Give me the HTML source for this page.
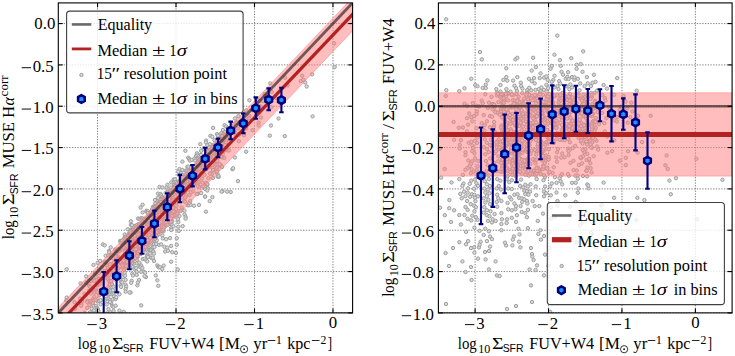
<!DOCTYPE html><html><head><meta charset="utf-8"><style>html,body{margin:0;padding:0;background:#fff;width:735px;height:356px;overflow:hidden}svg{display:block}text{font-kerning:none}</style></head><body>
<svg width="735" height="356" viewBox="0 0 735 356">
<defs><clipPath id="cl"><rect x="58.3" y="2.9" width="294.30" height="310.00"/></clipPath>
<clipPath id="cr"><rect x="438.4" y="2.9" width="293.70" height="310.00"/></clipPath></defs>
<g clip-path="url(#cl)">
<g stroke="#707070" stroke-width="0.9" stroke-dasharray="1.3,1.42"><line x1="97.54" y1="2.9" x2="97.54" y2="312.9"/><line x1="176.02" y1="2.9" x2="176.02" y2="312.9"/><line x1="254.50" y1="2.9" x2="254.50" y2="312.9"/><line x1="332.98" y1="2.9" x2="332.98" y2="312.9"/><line x1="58.3" y1="23.57" x2="352.6" y2="23.57"/><line x1="58.3" y1="64.90" x2="352.6" y2="64.90"/><line x1="58.3" y1="106.23" x2="352.6" y2="106.23"/><line x1="58.3" y1="147.57" x2="352.6" y2="147.57"/><line x1="58.3" y1="188.90" x2="352.6" y2="188.90"/><line x1="58.3" y1="230.23" x2="352.6" y2="230.23"/><line x1="58.3" y1="271.57" x2="352.6" y2="271.57"/><line x1="58.3" y1="312.90" x2="352.6" y2="312.90"/></g>
<g fill="#d8d8d8" stroke="#9e9e9e" stroke-width="1.0"><circle cx="66.6" cy="269.3" r="1.7"/><circle cx="102.8" cy="244.4" r="1.7"/><circle cx="104.7" cy="245.3" r="1.7"/><circle cx="140.6" cy="207.5" r="1.7"/><circle cx="142.6" cy="204.7" r="1.7"/><circle cx="159.5" cy="186.9" r="1.7"/><circle cx="130.9" cy="221.3" r="1.7"/><circle cx="185.4" cy="150.8" r="1.7"/><circle cx="182.4" cy="161.6" r="1.7"/><circle cx="188.2" cy="157.7" r="1.7"/><circle cx="200.3" cy="144.1" r="1.7"/><circle cx="213.1" cy="127.9" r="1.7"/><circle cx="162.5" cy="187.5" r="1.7"/><circle cx="158.0" cy="193.6" r="1.7"/><circle cx="167.5" cy="184.7" r="1.7"/><circle cx="179.5" cy="169.1" r="1.7"/><circle cx="189.1" cy="159.0" r="1.7"/><circle cx="206.1" cy="140.6" r="1.7"/><circle cx="210.4" cy="135.8" r="1.7"/><circle cx="212.3" cy="136.9" r="1.7"/><circle cx="196.9" cy="153.3" r="1.7"/><circle cx="189.9" cy="160.5" r="1.7"/><circle cx="182.4" cy="170.0" r="1.7"/><circle cx="93.5" cy="264.9" r="1.7"/><circle cx="110.7" cy="247.4" r="1.7"/><circle cx="130.9" cy="224.8" r="1.7"/><circle cx="127.7" cy="229.3" r="1.7"/><circle cx="142.6" cy="212.4" r="1.7"/><circle cx="138.1" cy="218.5" r="1.7"/><circle cx="146.4" cy="210.7" r="1.7"/><circle cx="155.0" cy="200.0" r="1.7"/><circle cx="160.5" cy="194.0" r="1.7"/><circle cx="171.3" cy="182.4" r="1.7"/><circle cx="173.7" cy="179.4" r="1.7"/><circle cx="175.0" cy="179.4" r="1.7"/><circle cx="194.4" cy="158.6" r="1.7"/><circle cx="201.1" cy="150.8" r="1.7"/><circle cx="203.7" cy="149.2" r="1.7"/><circle cx="207.4" cy="144.9" r="1.7"/><circle cx="97.7" cy="262.9" r="1.7"/><circle cx="109.0" cy="250.9" r="1.7"/><circle cx="124.7" cy="234.5" r="1.7"/><circle cx="161.2" cy="195.3" r="1.7"/><circle cx="209.9" cy="144.1" r="1.7"/><circle cx="181.2" cy="172.9" r="1.7"/><circle cx="187.4" cy="166.8" r="1.7"/><circle cx="217.0" cy="134.1" r="1.7"/><circle cx="224.5" cy="125.3" r="1.7"/><circle cx="226.2" cy="126.3" r="1.7"/><circle cx="223.0" cy="130.0" r="1.7"/><circle cx="218.0" cy="135.6" r="1.7"/><circle cx="249.4" cy="100.3" r="1.7"/><circle cx="234.9" cy="118.4" r="1.7"/><circle cx="270.3" cy="83.4" r="1.7"/><circle cx="285.2" cy="77.7" r="1.7"/><circle cx="271.7" cy="91.9" r="1.7"/><circle cx="276.0" cy="97.9" r="1.7"/><circle cx="287.7" cy="85.4" r="1.7"/><circle cx="302.2" cy="75.7" r="1.7"/><circle cx="334.1" cy="43.4" r="1.7"/><circle cx="258.6" cy="122.5" r="1.7"/><circle cx="252.4" cy="130.2" r="1.7"/><circle cx="261.0" cy="117.5" r="1.7"/><circle cx="300.9" cy="81.0" r="1.7"/><circle cx="112.4" cy="313.8" r="1.7"/><circle cx="113.5" cy="311.0" r="1.7"/><circle cx="119.4" cy="310.6" r="1.7"/><circle cx="120.9" cy="314.6" r="1.7"/><circle cx="123.7" cy="311.9" r="1.7"/><circle cx="130.6" cy="292.5" r="1.7"/><circle cx="137.4" cy="285.3" r="1.7"/><circle cx="145.9" cy="277.0" r="1.7"/><circle cx="157.3" cy="265.4" r="1.7"/><circle cx="158.3" cy="266.6" r="1.7"/><circle cx="158.8" cy="267.2" r="1.7"/><circle cx="160.1" cy="267.2" r="1.7"/><circle cx="155.8" cy="275.5" r="1.7"/><circle cx="162.2" cy="269.0" r="1.7"/><circle cx="163.7" cy="265.6" r="1.7"/><circle cx="172.2" cy="252.2" r="1.7"/><circle cx="171.2" cy="261.7" r="1.7"/><circle cx="157.3" cy="280.3" r="1.7"/><circle cx="158.3" cy="285.8" r="1.7"/><circle cx="141.2" cy="305.4" r="1.7"/><circle cx="217.5" cy="176.6" r="1.7"/><circle cx="218.7" cy="176.8" r="1.7"/><circle cx="234.9" cy="157.5" r="1.7"/><circle cx="246.1" cy="151.7" r="1.7"/><circle cx="271.0" cy="125.5" r="1.7"/><circle cx="278.5" cy="118.5" r="1.7"/><circle cx="305.2" cy="82.5" r="1.7"/><circle cx="312.2" cy="74.3" r="1.7"/><circle cx="306.7" cy="86.5" r="1.7"/><circle cx="258.6" cy="125.5" r="1.7"/><circle cx="303.4" cy="79.8" r="1.7"/><circle cx="217.5" cy="169.8" r="1.7"/><circle cx="232.4" cy="169.2" r="1.7"/><circle cx="269.8" cy="135.6" r="1.7"/><circle cx="334.6" cy="67.1" r="1.7"/><circle cx="222.5" cy="191.1" r="1.7"/><circle cx="85.1" cy="315.5" r="1.7"/><circle cx="93.5" cy="305.6" r="1.7"/><circle cx="91.8" cy="308.7" r="1.7"/><circle cx="97.3" cy="301.2" r="1.7"/><circle cx="99.0" cy="300.8" r="1.7"/><circle cx="100.6" cy="300.2" r="1.7"/><circle cx="90.0" cy="312.3" r="1.7"/><circle cx="96.2" cy="305.9" r="1.7"/><circle cx="89.5" cy="314.6" r="1.7"/><circle cx="94.0" cy="310.5" r="1.7"/><circle cx="96.8" cy="307.8" r="1.7"/><circle cx="92.3" cy="313.3" r="1.7"/><circle cx="97.3" cy="308.4" r="1.7"/><circle cx="100.6" cy="304.3" r="1.7"/><circle cx="97.8" cy="309.2" r="1.7"/><circle cx="92.8" cy="315.7" r="1.7"/><circle cx="96.2" cy="312.7" r="1.7"/><circle cx="98.4" cy="311.1" r="1.7"/><circle cx="96.8" cy="314.4" r="1.7"/><circle cx="107.9" cy="290.6" r="1.7"/><circle cx="112.3" cy="285.2" r="1.7"/><circle cx="110.1" cy="289.5" r="1.7"/><circle cx="113.5" cy="286.7" r="1.7"/><circle cx="107.4" cy="294.1" r="1.7"/><circle cx="111.2" cy="290.5" r="1.7"/><circle cx="108.4" cy="294.6" r="1.7"/><circle cx="112.9" cy="290.2" r="1.7"/><circle cx="110.1" cy="294.3" r="1.7"/><circle cx="106.7" cy="298.7" r="1.7"/><circle cx="111.7" cy="294.1" r="1.7"/><circle cx="108.4" cy="298.6" r="1.7"/><circle cx="113.5" cy="294.0" r="1.7"/><circle cx="107.4" cy="301.6" r="1.7"/><circle cx="110.1" cy="299.9" r="1.7"/><circle cx="114.0" cy="296.3" r="1.7"/><circle cx="121.1" cy="275.8" r="1.7"/><circle cx="124.6" cy="272.9" r="1.7"/><circle cx="122.9" cy="276.8" r="1.7"/><circle cx="120.6" cy="280.2" r="1.7"/><circle cx="125.1" cy="275.8" r="1.7"/><circle cx="121.1" cy="282.1" r="1.7"/><circle cx="122.3" cy="282.3" r="1.7"/><circle cx="125.6" cy="279.9" r="1.7"/><circle cx="120.6" cy="285.6" r="1.7"/><circle cx="121.1" cy="286.9" r="1.7"/><circle cx="131.2" cy="265.3" r="1.7"/><circle cx="134.0" cy="263.6" r="1.7"/><circle cx="136.8" cy="259.8" r="1.7"/><circle cx="132.9" cy="267.2" r="1.7"/><circle cx="136.8" cy="263.4" r="1.7"/><circle cx="134.5" cy="269.1" r="1.7"/><circle cx="136.2" cy="268.1" r="1.7"/><circle cx="132.3" cy="273.7" r="1.7"/><circle cx="139.5" cy="262.7" r="1.7"/><circle cx="142.8" cy="259.0" r="1.7"/><circle cx="144.6" cy="258.7" r="1.7"/><circle cx="147.3" cy="255.9" r="1.7"/><circle cx="146.7" cy="249.1" r="1.7"/><circle cx="145.6" cy="252.8" r="1.7"/><circle cx="148.9" cy="249.9" r="1.7"/><circle cx="151.2" cy="246.5" r="1.7"/><circle cx="154.0" cy="244.2" r="1.7"/><circle cx="150.1" cy="249.9" r="1.7"/><circle cx="152.9" cy="247.2" r="1.7"/><circle cx="156.2" cy="243.9" r="1.7"/><circle cx="151.2" cy="250.2" r="1.7"/><circle cx="154.5" cy="247.0" r="1.7"/><circle cx="156.7" cy="240.4" r="1.7"/><circle cx="162.3" cy="235.4" r="1.7"/><circle cx="163.4" cy="231.4" r="1.7"/><circle cx="170.6" cy="224.2" r="1.7"/><circle cx="171.2" cy="228.2" r="1.7"/><circle cx="162.8" cy="238.4" r="1.7"/><circle cx="150.1" cy="253.5" r="1.7"/><circle cx="152.9" cy="251.2" r="1.7"/><circle cx="147.9" cy="256.9" r="1.7"/><circle cx="159.0" cy="244.8" r="1.7"/><circle cx="153.4" cy="251.6" r="1.7"/><circle cx="139.5" cy="266.2" r="1.7"/><circle cx="141.2" cy="265.5" r="1.7"/><circle cx="146.2" cy="260.3" r="1.7"/><circle cx="132.9" cy="275.5" r="1.7"/><circle cx="136.8" cy="271.9" r="1.7"/><circle cx="140.6" cy="267.4" r="1.7"/><circle cx="154.0" cy="253.6" r="1.7"/><circle cx="161.2" cy="244.4" r="1.7"/><circle cx="166.1" cy="239.2" r="1.7"/><circle cx="171.2" cy="230.0" r="1.7"/><circle cx="98.4" cy="315.1" r="1.7"/><circle cx="100.1" cy="314.3" r="1.7"/><circle cx="106.7" cy="313.4" r="1.7"/><circle cx="108.4" cy="309.1" r="1.7"/><circle cx="112.3" cy="306.1" r="1.7"/><circle cx="113.5" cy="306.9" r="1.7"/><circle cx="111.2" cy="303.0" r="1.7"/><circle cx="110.1" cy="301.9" r="1.7"/><circle cx="112.9" cy="299.4" r="1.7"/><circle cx="106.7" cy="304.4" r="1.7"/><circle cx="115.6" cy="299.0" r="1.7"/><circle cx="115.6" cy="305.7" r="1.7"/><circle cx="110.1" cy="312.2" r="1.7"/><circle cx="118.4" cy="292.8" r="1.7"/><circle cx="125.6" cy="284.7" r="1.7"/><circle cx="116.2" cy="297.1" r="1.7"/><circle cx="119.5" cy="294.3" r="1.7"/><circle cx="126.2" cy="286.6" r="1.7"/><circle cx="131.7" cy="280.8" r="1.7"/><circle cx="125.6" cy="289.1" r="1.7"/><circle cx="131.2" cy="282.8" r="1.7"/><circle cx="136.8" cy="274.9" r="1.7"/><circle cx="142.3" cy="268.0" r="1.7"/><circle cx="141.2" cy="271.8" r="1.7"/><circle cx="147.3" cy="261.4" r="1.7"/><circle cx="151.2" cy="257.8" r="1.7"/><circle cx="152.9" cy="257.6" r="1.7"/><circle cx="164.5" cy="246.9" r="1.7"/><circle cx="170.1" cy="238.1" r="1.7"/><circle cx="125.6" cy="291.6" r="1.7"/><circle cx="143.9" cy="271.7" r="1.7"/><circle cx="154.0" cy="260.9" r="1.7"/><circle cx="167.3" cy="247.6" r="1.7"/><circle cx="165.1" cy="251.5" r="1.7"/><circle cx="171.2" cy="245.9" r="1.7"/><circle cx="167.9" cy="250.8" r="1.7"/><circle cx="145.1" cy="272.7" r="1.7"/><circle cx="139.0" cy="280.0" r="1.7"/><circle cx="137.8" cy="282.5" r="1.7"/><circle cx="144.6" cy="276.2" r="1.7"/><circle cx="129.5" cy="292.5" r="1.7"/><circle cx="172.2" cy="221.2" r="1.7"/><circle cx="172.2" cy="225.0" r="1.7"/><circle cx="173.4" cy="226.4" r="1.7"/><circle cx="178.4" cy="222.0" r="1.7"/><circle cx="177.8" cy="219.1" r="1.7"/><circle cx="179.5" cy="216.1" r="1.7"/><circle cx="182.8" cy="210.1" r="1.7"/><circle cx="184.5" cy="210.6" r="1.7"/><circle cx="187.8" cy="205.2" r="1.7"/><circle cx="188.9" cy="205.3" r="1.7"/><circle cx="190.6" cy="204.8" r="1.7"/><circle cx="184.5" cy="214.4" r="1.7"/><circle cx="193.9" cy="205.7" r="1.7"/><circle cx="201.2" cy="193.0" r="1.7"/><circle cx="205.1" cy="188.9" r="1.7"/><circle cx="207.3" cy="184.9" r="1.7"/><circle cx="207.8" cy="188.3" r="1.7"/><circle cx="207.3" cy="190.5" r="1.7"/><circle cx="185.6" cy="216.7" r="1.7"/><circle cx="205.1" cy="196.6" r="1.7"/><circle cx="178.4" cy="226.8" r="1.7"/><circle cx="185.6" cy="218.6" r="1.7"/><circle cx="199.0" cy="204.9" r="1.7"/><circle cx="66.7" cy="297.6" r="1.7"/><circle cx="80.6" cy="283.4" r="1.7"/><circle cx="86.2" cy="276.3" r="1.7"/><circle cx="100.1" cy="260.9" r="1.7"/><circle cx="105.6" cy="255.7" r="1.7"/><circle cx="109.0" cy="252.3" r="1.7"/><circle cx="66.2" cy="300.4" r="1.7"/><circle cx="86.2" cy="282.5" r="1.7"/><circle cx="95.1" cy="273.0" r="1.7"/><circle cx="104.6" cy="261.9" r="1.7"/><circle cx="105.6" cy="261.8" r="1.7"/><circle cx="108.4" cy="255.3" r="1.7"/><circle cx="112.3" cy="254.6" r="1.7"/><circle cx="115.1" cy="249.4" r="1.7"/><circle cx="89.0" cy="280.4" r="1.7"/><circle cx="99.0" cy="269.8" r="1.7"/><circle cx="101.8" cy="267.1" r="1.7"/><circle cx="111.2" cy="257.8" r="1.7"/><circle cx="91.2" cy="281.1" r="1.7"/><circle cx="89.0" cy="285.4" r="1.7"/><circle cx="93.5" cy="280.2" r="1.7"/><circle cx="96.2" cy="276.9" r="1.7"/><circle cx="99.6" cy="271.5" r="1.7"/><circle cx="99.0" cy="273.2" r="1.7"/><circle cx="106.7" cy="265.4" r="1.7"/><circle cx="113.5" cy="258.8" r="1.7"/><circle cx="74.5" cy="302.1" r="1.7"/><circle cx="94.5" cy="280.8" r="1.7"/><circle cx="110.1" cy="264.3" r="1.7"/><circle cx="80.1" cy="298.6" r="1.7"/><circle cx="84.5" cy="293.8" r="1.7"/><circle cx="90.0" cy="286.8" r="1.7"/><circle cx="89.0" cy="290.7" r="1.7"/><circle cx="99.0" cy="278.8" r="1.7"/><circle cx="104.6" cy="270.9" r="1.7"/><circle cx="107.9" cy="268.2" r="1.7"/><circle cx="75.1" cy="308.6" r="1.7"/><circle cx="82.3" cy="301.2" r="1.7"/><circle cx="81.2" cy="304.3" r="1.7"/><circle cx="81.2" cy="305.7" r="1.7"/><circle cx="90.7" cy="293.4" r="1.7"/><circle cx="93.5" cy="290.1" r="1.7"/><circle cx="97.3" cy="285.6" r="1.7"/><circle cx="99.6" cy="284.1" r="1.7"/><circle cx="94.5" cy="290.4" r="1.7"/><circle cx="95.6" cy="290.3" r="1.7"/><circle cx="94.5" cy="292.7" r="1.7"/><circle cx="96.8" cy="291.2" r="1.7"/><circle cx="87.3" cy="300.8" r="1.7"/><circle cx="87.3" cy="302.0" r="1.7"/><circle cx="100.1" cy="281.4" r="1.7"/><circle cx="107.9" cy="273.8" r="1.7"/><circle cx="110.1" cy="272.9" r="1.7"/><circle cx="106.7" cy="278.2" r="1.7"/><circle cx="110.1" cy="275.4" r="1.7"/><circle cx="113.5" cy="270.3" r="1.7"/><circle cx="108.4" cy="279.3" r="1.7"/><circle cx="112.3" cy="274.4" r="1.7"/><circle cx="114.5" cy="267.1" r="1.7"/><circle cx="107.4" cy="270.9" r="1.7"/><circle cx="113.5" cy="263.2" r="1.7"/><circle cx="97.5" cy="292.4" r="1.7"/><circle cx="90.3" cy="300.9" r="1.7"/><circle cx="94.3" cy="297.0" r="1.7"/><circle cx="93.0" cy="299.4" r="1.7"/><circle cx="91.6" cy="301.7" r="1.7"/><circle cx="89.4" cy="304.9" r="1.7"/><circle cx="87.2" cy="307.9" r="1.7"/><circle cx="93.9" cy="300.7" r="1.7"/><circle cx="95.7" cy="299.8" r="1.7"/><circle cx="93.0" cy="303.1" r="1.7"/><circle cx="84.5" cy="312.8" r="1.7"/><circle cx="100.2" cy="292.8" r="1.7"/><circle cx="101.1" cy="289.8" r="1.7"/><circle cx="99.3" cy="295.3" r="1.7"/><circle cx="109.2" cy="281.2" r="1.7"/><circle cx="111.0" cy="281.0" r="1.7"/><circle cx="109.6" cy="284.8" r="1.7"/><circle cx="108.3" cy="287.5" r="1.7"/><circle cx="113.7" cy="275.4" r="1.7"/><circle cx="111.8" cy="284.1" r="1.7"/><circle cx="238.4" cy="116.1" r="1.7"/><circle cx="227.8" cy="128.1" r="1.7"/><circle cx="233.4" cy="123.9" r="1.7"/><circle cx="236.2" cy="122.3" r="1.7"/><circle cx="236.8" cy="122.6" r="1.7"/><circle cx="246.2" cy="110.4" r="1.7"/><circle cx="241.2" cy="120.9" r="1.7"/><circle cx="228.5" cy="136.0" r="1.7"/><circle cx="233.4" cy="131.2" r="1.7"/><circle cx="237.9" cy="128.5" r="1.7"/><circle cx="246.2" cy="120.6" r="1.7"/><circle cx="249.5" cy="115.9" r="1.7"/><circle cx="252.3" cy="110.0" r="1.7"/><circle cx="253.5" cy="107.5" r="1.7"/><circle cx="256.1" cy="100.4" r="1.7"/><circle cx="258.4" cy="100.3" r="1.7"/><circle cx="260.1" cy="101.2" r="1.7"/><circle cx="264.5" cy="94.3" r="1.7"/><circle cx="265.7" cy="96.6" r="1.7"/><circle cx="263.4" cy="101.2" r="1.7"/><circle cx="230.1" cy="139.1" r="1.7"/><circle cx="235.6" cy="132.9" r="1.7"/><circle cx="249.0" cy="118.2" r="1.7"/><circle cx="260.6" cy="106.3" r="1.7"/><circle cx="236.2" cy="135.6" r="1.7"/><circle cx="238.9" cy="134.8" r="1.7"/><circle cx="246.2" cy="128.6" r="1.7"/><circle cx="227.3" cy="148.7" r="1.7"/><circle cx="227.8" cy="150.4" r="1.7"/><circle cx="229.0" cy="150.4" r="1.7"/><circle cx="238.9" cy="141.2" r="1.7"/><circle cx="244.0" cy="135.3" r="1.7"/><circle cx="271.2" cy="107.2" r="1.7"/><circle cx="131.9" cy="225.1" r="1.7"/><circle cx="158.0" cy="197.8" r="1.7"/><circle cx="166.6" cy="187.6" r="1.7"/><circle cx="120.2" cy="240.9" r="1.7"/><circle cx="124.7" cy="237.1" r="1.7"/><circle cx="131.0" cy="229.5" r="1.7"/><circle cx="135.5" cy="225.8" r="1.7"/><circle cx="139.5" cy="219.1" r="1.7"/><circle cx="141.3" cy="218.2" r="1.7"/><circle cx="142.3" cy="218.4" r="1.7"/><circle cx="146.8" cy="211.6" r="1.7"/><circle cx="148.1" cy="211.3" r="1.7"/><circle cx="153.1" cy="206.7" r="1.7"/><circle cx="155.4" cy="203.3" r="1.7"/><circle cx="157.6" cy="201.9" r="1.7"/><circle cx="162.1" cy="197.0" r="1.7"/><circle cx="165.7" cy="192.9" r="1.7"/><circle cx="168.4" cy="189.4" r="1.7"/><circle cx="171.1" cy="187.6" r="1.7"/><circle cx="173.7" cy="182.7" r="1.7"/><circle cx="175.6" cy="182.2" r="1.7"/><circle cx="167.4" cy="191.9" r="1.7"/><circle cx="178.1" cy="171.7" r="1.7"/><circle cx="206.0" cy="142.3" r="1.7"/><circle cx="191.6" cy="159.9" r="1.7"/><circle cx="196.1" cy="156.0" r="1.7"/><circle cx="203.8" cy="148.1" r="1.7"/><circle cx="179.4" cy="175.6" r="1.7"/><circle cx="188.5" cy="166.7" r="1.7"/><circle cx="197.5" cy="155.4" r="1.7"/><circle cx="182.2" cy="174.9" r="1.7"/><circle cx="185.7" cy="170.6" r="1.7"/><circle cx="186.7" cy="170.8" r="1.7"/><circle cx="195.2" cy="160.6" r="1.7"/><circle cx="199.3" cy="155.7" r="1.7"/><circle cx="201.1" cy="155.0" r="1.7"/><circle cx="198.3" cy="158.6" r="1.7"/><circle cx="209.1" cy="147.7" r="1.7"/><circle cx="214.6" cy="140.2" r="1.7"/><circle cx="221.3" cy="133.2" r="1.7"/><circle cx="174.1" cy="185.1" r="1.7"/><circle cx="312.6" cy="116.4" r="1.7"/><circle cx="284.8" cy="136.1" r="1.7"/><circle cx="233.1" cy="168.3" r="1.7"/><circle cx="238.0" cy="181.1" r="1.7"/><circle cx="227.1" cy="191.6" r="1.7"/><circle cx="230.7" cy="192.0" r="1.7"/><circle cx="221.6" cy="191.6" r="1.7"/><circle cx="205.1" cy="196.6" r="1.7"/><circle cx="212.4" cy="197.1" r="1.7"/><circle cx="209.7" cy="201.1" r="1.7"/><circle cx="206.0" cy="211.7" r="1.7"/><circle cx="218.5" cy="175.9" r="1.7"/><circle cx="182.7" cy="226.1" r="1.7"/><circle cx="178.7" cy="231.0" r="1.7"/><circle cx="176.8" cy="238.3" r="1.7"/><circle cx="176.8" cy="244.7" r="1.7"/><circle cx="175.9" cy="252.9" r="1.7"/><circle cx="177.7" cy="269.4" r="1.7"/><circle cx="130.7" cy="247.8" r="1.7"/><circle cx="155.0" cy="206.5" r="1.7"/><circle cx="131.7" cy="261.2" r="1.7"/><circle cx="127.8" cy="238.6" r="1.7"/><circle cx="172.8" cy="207.6" r="1.7"/><circle cx="143.1" cy="235.3" r="1.7"/><circle cx="158.1" cy="211.5" r="1.7"/><circle cx="131.2" cy="257.0" r="1.7"/><circle cx="158.5" cy="219.0" r="1.7"/><circle cx="166.0" cy="212.3" r="1.7"/><circle cx="174.5" cy="191.9" r="1.7"/><circle cx="152.5" cy="224.3" r="1.7"/><circle cx="142.3" cy="238.8" r="1.7"/><circle cx="136.2" cy="252.2" r="1.7"/><circle cx="168.6" cy="195.5" r="1.7"/><circle cx="148.1" cy="222.1" r="1.7"/><circle cx="128.4" cy="263.6" r="1.7"/><circle cx="146.2" cy="219.8" r="1.7"/><circle cx="158.7" cy="208.4" r="1.7"/><circle cx="170.4" cy="196.6" r="1.7"/><circle cx="125.8" cy="243.0" r="1.7"/><circle cx="141.9" cy="235.1" r="1.7"/><circle cx="170.6" cy="212.5" r="1.7"/><circle cx="141.5" cy="220.3" r="1.7"/><circle cx="132.3" cy="262.8" r="1.7"/><circle cx="147.7" cy="236.4" r="1.7"/><circle cx="126.9" cy="236.2" r="1.7"/><circle cx="167.5" cy="212.0" r="1.7"/><circle cx="140.0" cy="232.0" r="1.7"/><circle cx="128.7" cy="239.0" r="1.7"/><circle cx="125.4" cy="264.9" r="1.7"/><circle cx="148.1" cy="217.1" r="1.7"/><circle cx="162.1" cy="204.7" r="1.7"/><circle cx="127.3" cy="254.8" r="1.7"/><circle cx="170.1" cy="190.5" r="1.7"/><circle cx="165.4" cy="200.9" r="1.7"/><circle cx="128.9" cy="233.6" r="1.7"/><circle cx="139.2" cy="246.6" r="1.7"/><circle cx="149.4" cy="240.0" r="1.7"/><circle cx="135.3" cy="236.9" r="1.7"/><circle cx="137.4" cy="256.9" r="1.7"/><circle cx="172.4" cy="198.6" r="1.7"/><circle cx="146.5" cy="225.0" r="1.7"/><circle cx="162.4" cy="199.1" r="1.7"/><circle cx="127.6" cy="248.0" r="1.7"/><circle cx="136.7" cy="253.1" r="1.7"/><circle cx="162.2" cy="216.3" r="1.7"/><circle cx="158.1" cy="225.5" r="1.7"/><circle cx="164.2" cy="226.9" r="1.7"/><circle cx="131.8" cy="250.9" r="1.7"/><circle cx="131.5" cy="245.1" r="1.7"/><circle cx="164.5" cy="225.6" r="1.7"/><circle cx="163.1" cy="198.2" r="1.7"/><circle cx="142.6" cy="224.1" r="1.7"/><circle cx="175.4" cy="188.9" r="1.7"/><circle cx="136.7" cy="236.8" r="1.7"/><circle cx="127.3" cy="263.9" r="1.7"/><circle cx="156.8" cy="209.0" r="1.7"/><circle cx="149.7" cy="213.8" r="1.7"/><circle cx="155.5" cy="212.8" r="1.7"/><circle cx="126.1" cy="239.8" r="1.7"/><circle cx="152.6" cy="229.4" r="1.7"/><circle cx="140.8" cy="242.1" r="1.7"/><circle cx="142.2" cy="223.4" r="1.7"/><circle cx="140.3" cy="234.3" r="1.7"/><circle cx="171.0" cy="192.6" r="1.7"/><circle cx="128.6" cy="252.2" r="1.7"/><circle cx="173.6" cy="216.4" r="1.7"/><circle cx="160.1" cy="202.4" r="1.7"/><circle cx="165.5" cy="217.4" r="1.7"/><circle cx="131.5" cy="245.9" r="1.7"/><circle cx="126.7" cy="262.3" r="1.7"/><circle cx="161.0" cy="226.2" r="1.7"/><circle cx="163.2" cy="205.9" r="1.7"/><circle cx="164.7" cy="203.7" r="1.7"/><circle cx="131.2" cy="243.7" r="1.7"/><circle cx="149.7" cy="220.7" r="1.7"/><circle cx="155.2" cy="225.5" r="1.7"/><circle cx="136.4" cy="246.0" r="1.7"/><circle cx="142.5" cy="243.4" r="1.7"/><circle cx="139.0" cy="249.1" r="1.7"/><circle cx="145.4" cy="234.2" r="1.7"/><circle cx="158.7" cy="219.0" r="1.7"/><circle cx="137.4" cy="257.0" r="1.7"/><circle cx="129.1" cy="243.8" r="1.7"/><circle cx="152.3" cy="209.3" r="1.7"/><circle cx="132.1" cy="256.5" r="1.7"/><circle cx="164.4" cy="217.0" r="1.7"/><circle cx="170.4" cy="214.6" r="1.7"/><circle cx="139.5" cy="243.5" r="1.7"/><circle cx="141.6" cy="244.8" r="1.7"/><circle cx="143.9" cy="222.4" r="1.7"/><circle cx="169.1" cy="213.8" r="1.7"/><circle cx="162.3" cy="216.6" r="1.7"/><circle cx="164.3" cy="210.8" r="1.7"/><circle cx="153.2" cy="209.6" r="1.7"/><circle cx="152.6" cy="235.4" r="1.7"/><circle cx="160.3" cy="226.8" r="1.7"/><circle cx="149.6" cy="240.8" r="1.7"/><circle cx="129.7" cy="261.6" r="1.7"/><circle cx="143.2" cy="221.0" r="1.7"/><circle cx="155.9" cy="219.8" r="1.7"/><circle cx="146.1" cy="243.5" r="1.7"/><circle cx="131.2" cy="251.3" r="1.7"/><circle cx="145.4" cy="233.4" r="1.7"/><circle cx="149.8" cy="215.6" r="1.7"/><circle cx="150.4" cy="239.3" r="1.7"/><circle cx="132.9" cy="229.2" r="1.7"/><circle cx="127.6" cy="249.8" r="1.7"/><circle cx="174.1" cy="186.9" r="1.7"/><circle cx="175.0" cy="202.5" r="1.7"/><circle cx="130.3" cy="245.6" r="1.7"/><circle cx="134.8" cy="250.8" r="1.7"/><circle cx="151.9" cy="218.4" r="1.7"/><circle cx="137.2" cy="253.3" r="1.7"/><circle cx="163.5" cy="211.3" r="1.7"/><circle cx="144.9" cy="240.9" r="1.7"/><circle cx="173.9" cy="188.3" r="1.7"/><circle cx="132.3" cy="241.6" r="1.7"/><circle cx="150.2" cy="213.0" r="1.7"/><circle cx="126.9" cy="242.5" r="1.7"/><circle cx="143.9" cy="242.0" r="1.7"/><circle cx="155.4" cy="206.1" r="1.7"/><circle cx="126.5" cy="250.8" r="1.7"/><circle cx="169.0" cy="221.4" r="1.7"/><circle cx="142.9" cy="248.1" r="1.7"/><circle cx="171.8" cy="201.5" r="1.7"/><circle cx="162.4" cy="210.0" r="1.7"/><circle cx="132.0" cy="249.0" r="1.7"/><circle cx="128.6" cy="255.6" r="1.7"/><circle cx="165.7" cy="225.0" r="1.7"/><circle cx="147.1" cy="217.8" r="1.7"/><circle cx="170.4" cy="218.5" r="1.7"/><circle cx="173.8" cy="205.7" r="1.7"/><circle cx="158.7" cy="214.2" r="1.7"/><circle cx="133.5" cy="237.9" r="1.7"/><circle cx="161.1" cy="210.0" r="1.7"/><circle cx="159.6" cy="217.5" r="1.7"/><circle cx="147.2" cy="246.2" r="1.7"/><circle cx="132.7" cy="245.4" r="1.7"/><circle cx="132.3" cy="260.8" r="1.7"/><circle cx="149.2" cy="222.8" r="1.7"/><circle cx="132.8" cy="248.9" r="1.7"/><circle cx="144.6" cy="220.8" r="1.7"/><circle cx="125.8" cy="249.4" r="1.7"/><circle cx="154.1" cy="223.9" r="1.7"/><circle cx="170.3" cy="220.0" r="1.7"/><circle cx="172.2" cy="214.3" r="1.7"/><circle cx="148.6" cy="229.8" r="1.7"/><circle cx="144.5" cy="230.0" r="1.7"/><circle cx="126.3" cy="262.6" r="1.7"/><circle cx="136.8" cy="225.7" r="1.7"/><circle cx="148.1" cy="236.9" r="1.7"/><circle cx="146.5" cy="226.7" r="1.7"/><circle cx="157.9" cy="207.9" r="1.7"/><circle cx="124.7" cy="257.3" r="1.7"/><circle cx="151.4" cy="238.4" r="1.7"/><circle cx="145.5" cy="241.9" r="1.7"/><circle cx="125.1" cy="238.0" r="1.7"/><circle cx="154.9" cy="213.3" r="1.7"/><circle cx="127.6" cy="238.7" r="1.7"/><circle cx="143.4" cy="229.1" r="1.7"/><circle cx="153.1" cy="237.3" r="1.7"/><circle cx="142.9" cy="224.5" r="1.7"/><circle cx="153.8" cy="206.9" r="1.7"/><circle cx="143.9" cy="227.9" r="1.7"/><circle cx="144.0" cy="218.8" r="1.7"/><circle cx="152.6" cy="229.0" r="1.7"/><circle cx="162.6" cy="229.6" r="1.7"/><circle cx="142.3" cy="240.9" r="1.7"/><circle cx="146.8" cy="221.4" r="1.7"/><circle cx="169.8" cy="215.0" r="1.7"/><circle cx="172.5" cy="214.6" r="1.7"/><circle cx="171.2" cy="192.8" r="1.7"/><circle cx="124.9" cy="243.9" r="1.7"/><circle cx="145.3" cy="238.8" r="1.7"/><circle cx="146.6" cy="231.6" r="1.7"/><circle cx="163.2" cy="199.3" r="1.7"/><circle cx="158.9" cy="203.0" r="1.7"/><circle cx="136.9" cy="248.8" r="1.7"/><circle cx="159.2" cy="214.7" r="1.7"/><circle cx="139.3" cy="249.9" r="1.7"/><circle cx="138.2" cy="224.3" r="1.7"/><circle cx="136.8" cy="225.4" r="1.7"/><circle cx="165.7" cy="198.3" r="1.7"/><circle cx="174.1" cy="192.6" r="1.7"/><circle cx="139.8" cy="241.1" r="1.7"/><circle cx="140.0" cy="234.1" r="1.7"/><circle cx="129.5" cy="245.5" r="1.7"/><circle cx="125.4" cy="244.2" r="1.7"/><circle cx="170.8" cy="198.3" r="1.7"/><circle cx="138.0" cy="246.2" r="1.7"/><circle cx="169.4" cy="200.3" r="1.7"/><circle cx="143.4" cy="241.7" r="1.7"/><circle cx="164.8" cy="215.8" r="1.7"/><circle cx="133.3" cy="234.4" r="1.7"/><circle cx="163.0" cy="220.8" r="1.7"/><circle cx="170.1" cy="215.8" r="1.7"/><circle cx="145.8" cy="219.8" r="1.7"/><circle cx="169.8" cy="213.2" r="1.7"/><circle cx="153.7" cy="229.8" r="1.7"/><circle cx="143.9" cy="228.7" r="1.7"/><circle cx="153.7" cy="223.1" r="1.7"/><circle cx="160.5" cy="231.1" r="1.7"/><circle cx="167.6" cy="205.3" r="1.7"/><circle cx="143.3" cy="249.0" r="1.7"/><circle cx="144.4" cy="243.6" r="1.7"/><circle cx="128.9" cy="248.2" r="1.7"/><circle cx="150.6" cy="237.3" r="1.7"/><circle cx="169.2" cy="195.7" r="1.7"/><circle cx="155.8" cy="225.8" r="1.7"/><circle cx="131.9" cy="257.8" r="1.7"/><circle cx="152.5" cy="240.4" r="1.7"/><circle cx="133.7" cy="245.6" r="1.7"/><circle cx="140.7" cy="242.1" r="1.7"/><circle cx="155.3" cy="222.4" r="1.7"/><circle cx="140.8" cy="237.4" r="1.7"/><circle cx="143.2" cy="247.8" r="1.7"/><circle cx="147.8" cy="229.0" r="1.7"/><circle cx="137.4" cy="232.6" r="1.7"/><circle cx="173.1" cy="197.0" r="1.7"/><circle cx="168.7" cy="211.1" r="1.7"/><circle cx="174.4" cy="190.6" r="1.7"/><circle cx="172.4" cy="213.1" r="1.7"/><circle cx="153.3" cy="231.1" r="1.7"/><circle cx="161.2" cy="214.0" r="1.7"/><circle cx="156.7" cy="211.4" r="1.7"/><circle cx="125.2" cy="259.6" r="1.7"/><circle cx="148.5" cy="242.8" r="1.7"/><circle cx="137.7" cy="251.2" r="1.7"/><circle cx="174.7" cy="214.9" r="1.7"/><circle cx="173.6" cy="191.3" r="1.7"/><circle cx="132.6" cy="236.8" r="1.7"/><circle cx="142.7" cy="222.4" r="1.7"/><circle cx="131.9" cy="230.5" r="1.7"/><circle cx="172.0" cy="199.7" r="1.7"/><circle cx="156.3" cy="219.5" r="1.7"/><circle cx="162.3" cy="224.9" r="1.7"/><circle cx="143.8" cy="235.3" r="1.7"/><circle cx="129.1" cy="242.4" r="1.7"/><circle cx="135.6" cy="236.4" r="1.7"/><circle cx="140.8" cy="239.8" r="1.7"/><circle cx="141.2" cy="231.0" r="1.7"/><circle cx="166.8" cy="193.5" r="1.7"/><circle cx="124.4" cy="239.7" r="1.7"/><circle cx="168.5" cy="212.5" r="1.7"/><circle cx="161.5" cy="230.8" r="1.7"/><circle cx="135.3" cy="257.1" r="1.7"/><circle cx="136.6" cy="242.3" r="1.7"/><circle cx="159.1" cy="228.0" r="1.7"/><circle cx="136.9" cy="240.6" r="1.7"/><circle cx="126.5" cy="245.2" r="1.7"/><circle cx="174.5" cy="215.4" r="1.7"/><circle cx="154.0" cy="233.0" r="1.7"/><circle cx="170.4" cy="200.4" r="1.7"/><circle cx="174.4" cy="200.1" r="1.7"/><circle cx="132.3" cy="247.2" r="1.7"/><circle cx="154.6" cy="229.2" r="1.7"/><circle cx="158.6" cy="203.2" r="1.7"/><circle cx="156.9" cy="234.4" r="1.7"/><circle cx="158.5" cy="234.5" r="1.7"/><circle cx="150.4" cy="237.6" r="1.7"/><circle cx="131.3" cy="260.5" r="1.7"/><circle cx="146.5" cy="243.9" r="1.7"/><circle cx="140.6" cy="241.6" r="1.7"/><circle cx="167.6" cy="216.1" r="1.7"/><circle cx="155.9" cy="237.1" r="1.7"/><circle cx="128.7" cy="236.7" r="1.7"/><circle cx="152.4" cy="240.2" r="1.7"/><circle cx="159.4" cy="211.3" r="1.7"/><circle cx="129.7" cy="247.3" r="1.7"/><circle cx="148.8" cy="227.8" r="1.7"/><circle cx="155.9" cy="213.7" r="1.7"/><circle cx="169.3" cy="200.1" r="1.7"/><circle cx="129.6" cy="244.0" r="1.7"/><circle cx="172.1" cy="192.8" r="1.7"/><circle cx="138.4" cy="254.1" r="1.7"/><circle cx="142.0" cy="247.5" r="1.7"/><circle cx="126.5" cy="265.4" r="1.7"/><circle cx="136.3" cy="231.3" r="1.7"/><circle cx="162.2" cy="231.1" r="1.7"/><circle cx="173.4" cy="211.4" r="1.7"/><circle cx="171.0" cy="221.7" r="1.7"/><circle cx="152.5" cy="213.0" r="1.7"/><circle cx="167.7" cy="205.4" r="1.7"/><circle cx="140.2" cy="237.9" r="1.7"/><circle cx="125.9" cy="236.8" r="1.7"/><circle cx="137.7" cy="243.7" r="1.7"/><circle cx="162.6" cy="229.6" r="1.7"/><circle cx="166.1" cy="225.4" r="1.7"/><circle cx="156.8" cy="228.3" r="1.7"/><circle cx="154.3" cy="209.0" r="1.7"/><circle cx="127.3" cy="260.2" r="1.7"/><circle cx="134.5" cy="253.6" r="1.7"/><circle cx="147.9" cy="213.2" r="1.7"/><circle cx="152.9" cy="222.6" r="1.7"/><circle cx="127.9" cy="242.8" r="1.7"/><circle cx="139.9" cy="233.1" r="1.7"/><circle cx="160.4" cy="205.5" r="1.7"/><circle cx="146.9" cy="234.4" r="1.7"/><circle cx="172.7" cy="190.8" r="1.7"/><circle cx="128.2" cy="240.2" r="1.7"/><circle cx="135.5" cy="231.6" r="1.7"/><circle cx="128.0" cy="241.0" r="1.7"/><circle cx="135.6" cy="242.1" r="1.7"/><circle cx="157.4" cy="215.2" r="1.7"/><circle cx="132.8" cy="232.1" r="1.7"/><circle cx="137.6" cy="229.6" r="1.7"/><circle cx="148.8" cy="241.3" r="1.7"/><circle cx="160.9" cy="206.1" r="1.7"/><circle cx="126.0" cy="238.4" r="1.7"/><circle cx="146.5" cy="226.7" r="1.7"/><circle cx="159.2" cy="204.0" r="1.7"/><circle cx="137.2" cy="247.3" r="1.7"/><circle cx="153.3" cy="224.7" r="1.7"/><circle cx="170.4" cy="193.1" r="1.7"/><circle cx="134.2" cy="246.4" r="1.7"/><circle cx="153.1" cy="240.4" r="1.7"/><circle cx="174.3" cy="204.9" r="1.7"/><circle cx="163.1" cy="220.4" r="1.7"/><circle cx="131.0" cy="251.1" r="1.7"/><circle cx="139.8" cy="233.6" r="1.7"/><circle cx="132.2" cy="229.9" r="1.7"/><circle cx="167.9" cy="216.0" r="1.7"/><circle cx="162.7" cy="207.1" r="1.7"/><circle cx="145.6" cy="221.4" r="1.7"/><circle cx="155.0" cy="233.6" r="1.7"/><circle cx="164.1" cy="227.3" r="1.7"/><circle cx="137.5" cy="247.5" r="1.7"/><circle cx="130.6" cy="249.2" r="1.7"/><circle cx="129.8" cy="250.2" r="1.7"/><circle cx="152.0" cy="220.4" r="1.7"/><circle cx="142.1" cy="243.0" r="1.7"/><circle cx="148.8" cy="225.7" r="1.7"/><circle cx="129.9" cy="241.4" r="1.7"/><circle cx="167.6" cy="224.9" r="1.7"/><circle cx="143.3" cy="247.1" r="1.7"/><circle cx="169.0" cy="198.1" r="1.7"/><circle cx="138.2" cy="246.6" r="1.7"/><circle cx="139.8" cy="253.5" r="1.7"/><circle cx="142.9" cy="242.8" r="1.7"/><circle cx="160.4" cy="207.0" r="1.7"/><circle cx="168.6" cy="202.3" r="1.7"/><circle cx="129.8" cy="233.8" r="1.7"/><circle cx="147.3" cy="234.9" r="1.7"/><circle cx="138.1" cy="251.6" r="1.7"/><circle cx="137.9" cy="252.0" r="1.7"/><circle cx="125.8" cy="245.1" r="1.7"/><circle cx="132.3" cy="244.4" r="1.7"/><circle cx="142.1" cy="232.3" r="1.7"/><circle cx="167.8" cy="211.5" r="1.7"/><circle cx="155.2" cy="218.4" r="1.7"/><circle cx="165.6" cy="211.2" r="1.7"/><circle cx="162.4" cy="228.4" r="1.7"/><circle cx="155.5" cy="219.6" r="1.7"/><circle cx="137.7" cy="254.4" r="1.7"/><circle cx="163.4" cy="223.5" r="1.7"/><circle cx="135.5" cy="240.7" r="1.7"/><circle cx="169.5" cy="198.5" r="1.7"/><circle cx="165.9" cy="212.1" r="1.7"/><circle cx="135.4" cy="238.8" r="1.7"/><circle cx="128.1" cy="256.5" r="1.7"/><circle cx="161.4" cy="199.7" r="1.7"/><circle cx="139.6" cy="247.5" r="1.7"/><circle cx="134.4" cy="245.2" r="1.7"/><circle cx="165.5" cy="213.6" r="1.7"/><circle cx="130.4" cy="261.9" r="1.7"/><circle cx="162.5" cy="216.6" r="1.7"/><circle cx="141.2" cy="239.6" r="1.7"/><circle cx="144.2" cy="220.9" r="1.7"/><circle cx="130.4" cy="233.0" r="1.7"/><circle cx="132.9" cy="237.1" r="1.7"/><circle cx="156.7" cy="223.2" r="1.7"/><circle cx="154.4" cy="233.7" r="1.7"/><circle cx="129.0" cy="245.9" r="1.7"/><circle cx="128.2" cy="247.8" r="1.7"/><circle cx="128.2" cy="236.0" r="1.7"/><circle cx="129.5" cy="245.5" r="1.7"/><circle cx="163.3" cy="206.3" r="1.7"/><circle cx="162.2" cy="205.8" r="1.7"/><circle cx="138.9" cy="238.3" r="1.7"/><circle cx="128.0" cy="249.0" r="1.7"/><circle cx="154.1" cy="234.2" r="1.7"/><circle cx="127.0" cy="261.8" r="1.7"/><circle cx="153.4" cy="226.7" r="1.7"/><circle cx="126.8" cy="264.8" r="1.7"/><circle cx="138.4" cy="241.4" r="1.7"/><circle cx="151.8" cy="239.5" r="1.7"/><circle cx="155.0" cy="238.8" r="1.7"/><circle cx="136.1" cy="247.7" r="1.7"/><circle cx="153.7" cy="224.1" r="1.7"/><circle cx="156.3" cy="222.6" r="1.7"/><circle cx="141.4" cy="241.4" r="1.7"/><circle cx="128.4" cy="249.6" r="1.7"/><circle cx="147.4" cy="220.7" r="1.7"/><circle cx="153.3" cy="229.8" r="1.7"/><circle cx="130.6" cy="241.3" r="1.7"/><circle cx="127.3" cy="254.7" r="1.7"/><circle cx="128.3" cy="241.3" r="1.7"/><circle cx="147.1" cy="229.0" r="1.7"/><circle cx="125.8" cy="268.0" r="1.7"/><circle cx="135.9" cy="246.1" r="1.7"/><circle cx="135.5" cy="246.0" r="1.7"/><circle cx="142.2" cy="229.7" r="1.7"/><circle cx="148.5" cy="232.1" r="1.7"/><circle cx="154.8" cy="228.8" r="1.7"/><circle cx="137.9" cy="226.6" r="1.7"/><circle cx="137.1" cy="235.3" r="1.7"/><circle cx="155.3" cy="219.1" r="1.7"/><circle cx="140.1" cy="224.5" r="1.7"/><circle cx="154.8" cy="209.5" r="1.7"/><circle cx="150.7" cy="233.2" r="1.7"/><circle cx="156.1" cy="209.7" r="1.7"/><circle cx="142.4" cy="250.4" r="1.7"/><circle cx="128.8" cy="255.9" r="1.7"/><circle cx="146.5" cy="235.0" r="1.7"/><circle cx="144.3" cy="220.9" r="1.7"/><circle cx="153.0" cy="207.9" r="1.7"/><circle cx="168.5" cy="218.1" r="1.7"/><circle cx="143.3" cy="235.9" r="1.7"/><circle cx="151.2" cy="242.4" r="1.7"/><circle cx="126.4" cy="245.7" r="1.7"/><circle cx="145.0" cy="242.5" r="1.7"/><circle cx="161.6" cy="212.8" r="1.7"/><circle cx="124.7" cy="259.1" r="1.7"/><circle cx="145.0" cy="220.0" r="1.7"/><circle cx="156.5" cy="218.9" r="1.7"/><circle cx="139.9" cy="230.5" r="1.7"/><circle cx="150.9" cy="218.2" r="1.7"/><circle cx="144.3" cy="248.4" r="1.7"/><circle cx="148.7" cy="220.7" r="1.7"/><circle cx="150.9" cy="240.6" r="1.7"/><circle cx="168.6" cy="213.9" r="1.7"/><circle cx="170.3" cy="214.8" r="1.7"/><circle cx="159.0" cy="215.6" r="1.7"/><circle cx="131.8" cy="254.5" r="1.7"/><circle cx="156.7" cy="236.2" r="1.7"/><circle cx="140.6" cy="250.1" r="1.7"/><circle cx="135.4" cy="258.0" r="1.7"/><circle cx="175.2" cy="185.8" r="1.7"/><circle cx="140.8" cy="254.0" r="1.7"/><circle cx="173.8" cy="208.2" r="1.7"/><circle cx="131.0" cy="231.0" r="1.7"/><circle cx="136.9" cy="256.2" r="1.7"/><circle cx="165.4" cy="208.9" r="1.7"/><circle cx="163.2" cy="227.2" r="1.7"/><circle cx="139.5" cy="251.2" r="1.7"/><circle cx="138.0" cy="234.5" r="1.7"/><circle cx="126.4" cy="241.0" r="1.7"/><circle cx="152.4" cy="209.1" r="1.7"/><circle cx="152.1" cy="214.3" r="1.7"/><circle cx="162.6" cy="201.9" r="1.7"/><circle cx="134.8" cy="235.9" r="1.7"/><circle cx="154.0" cy="233.7" r="1.7"/><circle cx="162.8" cy="222.2" r="1.7"/><circle cx="159.1" cy="219.4" r="1.7"/><circle cx="141.7" cy="225.6" r="1.7"/><circle cx="168.5" cy="205.1" r="1.7"/><circle cx="157.5" cy="205.2" r="1.7"/><circle cx="142.7" cy="221.9" r="1.7"/><circle cx="142.3" cy="243.5" r="1.7"/><circle cx="141.6" cy="242.5" r="1.7"/><circle cx="130.5" cy="244.3" r="1.7"/><circle cx="145.2" cy="233.0" r="1.7"/><circle cx="135.9" cy="249.1" r="1.7"/><circle cx="169.4" cy="217.6" r="1.7"/><circle cx="125.7" cy="252.7" r="1.7"/><circle cx="141.8" cy="238.7" r="1.7"/><circle cx="128.4" cy="258.0" r="1.7"/><circle cx="145.5" cy="247.2" r="1.7"/><circle cx="125.1" cy="251.0" r="1.7"/><circle cx="149.1" cy="239.6" r="1.7"/><circle cx="162.9" cy="203.3" r="1.7"/><circle cx="139.9" cy="246.1" r="1.7"/><circle cx="145.7" cy="224.2" r="1.7"/><circle cx="171.9" cy="216.0" r="1.7"/><circle cx="142.4" cy="237.3" r="1.7"/><circle cx="171.8" cy="195.1" r="1.7"/><circle cx="170.8" cy="218.6" r="1.7"/><circle cx="161.4" cy="221.8" r="1.7"/><circle cx="159.3" cy="219.3" r="1.7"/><circle cx="154.0" cy="213.2" r="1.7"/><circle cx="153.0" cy="230.2" r="1.7"/><circle cx="149.1" cy="234.6" r="1.7"/><circle cx="147.6" cy="240.2" r="1.7"/><circle cx="161.1" cy="202.1" r="1.7"/><circle cx="163.6" cy="206.0" r="1.7"/><circle cx="128.3" cy="237.7" r="1.7"/><circle cx="140.8" cy="238.1" r="1.7"/><circle cx="141.1" cy="227.0" r="1.7"/><circle cx="163.6" cy="209.0" r="1.7"/><circle cx="169.0" cy="199.0" r="1.7"/><circle cx="159.5" cy="212.8" r="1.7"/><circle cx="167.7" cy="213.8" r="1.7"/><circle cx="159.0" cy="204.5" r="1.7"/><circle cx="162.7" cy="209.3" r="1.7"/><circle cx="162.1" cy="226.4" r="1.7"/><circle cx="130.4" cy="232.0" r="1.7"/><circle cx="163.0" cy="229.6" r="1.7"/><circle cx="170.3" cy="204.0" r="1.7"/><circle cx="166.9" cy="193.8" r="1.7"/><circle cx="127.1" cy="254.4" r="1.7"/><circle cx="151.2" cy="237.2" r="1.7"/><circle cx="136.1" cy="240.9" r="1.7"/><circle cx="174.9" cy="194.7" r="1.7"/><circle cx="144.9" cy="236.6" r="1.7"/><circle cx="175.2" cy="190.4" r="1.7"/><circle cx="159.6" cy="214.6" r="1.7"/><circle cx="144.7" cy="225.0" r="1.7"/><circle cx="148.0" cy="232.2" r="1.7"/><circle cx="144.3" cy="233.8" r="1.7"/><circle cx="156.8" cy="232.2" r="1.7"/><circle cx="152.9" cy="220.6" r="1.7"/><circle cx="173.5" cy="191.9" r="1.7"/><circle cx="126.5" cy="266.0" r="1.7"/><circle cx="137.8" cy="228.8" r="1.7"/><circle cx="143.9" cy="228.7" r="1.7"/><circle cx="142.3" cy="247.4" r="1.7"/><circle cx="139.0" cy="226.8" r="1.7"/><circle cx="135.2" cy="258.2" r="1.7"/><circle cx="146.1" cy="227.0" r="1.7"/><circle cx="164.0" cy="227.4" r="1.7"/><circle cx="150.3" cy="237.8" r="1.7"/><circle cx="117.9" cy="256.4" r="1.7"/><circle cx="120.5" cy="249.8" r="1.7"/><circle cx="117.9" cy="250.9" r="1.7"/><circle cx="117.8" cy="272.8" r="1.7"/><circle cx="122.4" cy="243.7" r="1.7"/><circle cx="118.6" cy="268.1" r="1.7"/><circle cx="122.9" cy="258.1" r="1.7"/><circle cx="121.8" cy="248.5" r="1.7"/><circle cx="122.3" cy="267.5" r="1.7"/><circle cx="119.1" cy="251.3" r="1.7"/><circle cx="115.9" cy="267.9" r="1.7"/><circle cx="121.0" cy="241.4" r="1.7"/><circle cx="120.0" cy="273.8" r="1.7"/><circle cx="115.8" cy="251.4" r="1.7"/><circle cx="116.1" cy="261.2" r="1.7"/><circle cx="118.9" cy="272.8" r="1.7"/><circle cx="116.2" cy="253.2" r="1.7"/><circle cx="123.6" cy="239.2" r="1.7"/><circle cx="117.8" cy="257.9" r="1.7"/><circle cx="115.6" cy="256.7" r="1.7"/><circle cx="120.7" cy="262.3" r="1.7"/><circle cx="120.8" cy="263.4" r="1.7"/><circle cx="120.8" cy="242.7" r="1.7"/><circle cx="121.2" cy="260.7" r="1.7"/><circle cx="117.5" cy="259.2" r="1.7"/><circle cx="117.6" cy="274.0" r="1.7"/><circle cx="118.0" cy="250.0" r="1.7"/><circle cx="122.4" cy="265.4" r="1.7"/><circle cx="122.9" cy="262.1" r="1.7"/><circle cx="119.2" cy="259.2" r="1.7"/><circle cx="120.3" cy="262.0" r="1.7"/><circle cx="123.7" cy="247.4" r="1.7"/><circle cx="122.2" cy="240.7" r="1.7"/><circle cx="117.2" cy="277.0" r="1.7"/><circle cx="117.7" cy="261.9" r="1.7"/><circle cx="123.4" cy="260.7" r="1.7"/><circle cx="119.8" cy="266.2" r="1.7"/><circle cx="124.0" cy="269.8" r="1.7"/><circle cx="117.1" cy="250.1" r="1.7"/><circle cx="118.1" cy="249.3" r="1.7"/><circle cx="214.6" cy="159.2" r="1.7"/><circle cx="182.7" cy="177.9" r="1.7"/><circle cx="192.1" cy="180.1" r="1.7"/><circle cx="215.0" cy="151.5" r="1.7"/><circle cx="208.2" cy="167.6" r="1.7"/><circle cx="220.6" cy="138.8" r="1.7"/><circle cx="212.0" cy="160.8" r="1.7"/><circle cx="222.0" cy="143.3" r="1.7"/><circle cx="183.5" cy="185.0" r="1.7"/><circle cx="194.4" cy="171.8" r="1.7"/><circle cx="216.6" cy="153.5" r="1.7"/><circle cx="210.3" cy="160.2" r="1.7"/><circle cx="182.7" cy="177.5" r="1.7"/><circle cx="195.7" cy="179.5" r="1.7"/><circle cx="208.7" cy="164.6" r="1.7"/><circle cx="207.4" cy="165.9" r="1.7"/><circle cx="226.6" cy="144.3" r="1.7"/><circle cx="219.7" cy="156.7" r="1.7"/><circle cx="213.4" cy="160.1" r="1.7"/><circle cx="179.5" cy="180.5" r="1.7"/><circle cx="222.8" cy="138.8" r="1.7"/><circle cx="191.1" cy="170.2" r="1.7"/><circle cx="208.0" cy="150.3" r="1.7"/><circle cx="216.4" cy="146.7" r="1.7"/><circle cx="213.6" cy="161.8" r="1.7"/><circle cx="210.9" cy="155.1" r="1.7"/><circle cx="207.5" cy="167.2" r="1.7"/><circle cx="211.9" cy="150.6" r="1.7"/><circle cx="175.8" cy="201.0" r="1.7"/><circle cx="207.4" cy="151.6" r="1.7"/><circle cx="203.7" cy="165.9" r="1.7"/><circle cx="190.5" cy="185.7" r="1.7"/><circle cx="187.7" cy="173.9" r="1.7"/><circle cx="191.3" cy="174.0" r="1.7"/><circle cx="220.8" cy="149.2" r="1.7"/><circle cx="181.7" cy="185.2" r="1.7"/><circle cx="180.7" cy="192.4" r="1.7"/><circle cx="219.3" cy="139.7" r="1.7"/><circle cx="201.1" cy="161.8" r="1.7"/><circle cx="190.1" cy="183.4" r="1.7"/><circle cx="225.6" cy="136.7" r="1.7"/><circle cx="203.3" cy="160.8" r="1.7"/><circle cx="178.6" cy="192.6" r="1.7"/><circle cx="183.4" cy="189.2" r="1.7"/><circle cx="213.8" cy="146.4" r="1.7"/><circle cx="206.0" cy="155.9" r="1.7"/><circle cx="214.6" cy="148.4" r="1.7"/><circle cx="210.8" cy="159.6" r="1.7"/><circle cx="205.0" cy="157.2" r="1.7"/><circle cx="218.2" cy="146.0" r="1.7"/><circle cx="215.0" cy="151.8" r="1.7"/><circle cx="198.4" cy="173.9" r="1.7"/><circle cx="192.9" cy="180.7" r="1.7"/><circle cx="198.3" cy="174.6" r="1.7"/><circle cx="211.2" cy="165.0" r="1.7"/><circle cx="196.4" cy="168.8" r="1.7"/><circle cx="226.5" cy="140.5" r="1.7"/><circle cx="196.9" cy="175.3" r="1.7"/><circle cx="188.3" cy="189.5" r="1.7"/><circle cx="214.1" cy="156.1" r="1.7"/><circle cx="190.4" cy="184.3" r="1.7"/><circle cx="222.6" cy="150.0" r="1.7"/><circle cx="222.3" cy="136.5" r="1.7"/><circle cx="213.5" cy="161.1" r="1.7"/><circle cx="199.9" cy="159.9" r="1.7"/><circle cx="203.3" cy="159.5" r="1.7"/><circle cx="177.1" cy="200.8" r="1.7"/><circle cx="218.1" cy="151.6" r="1.7"/><circle cx="213.8" cy="156.9" r="1.7"/><circle cx="199.2" cy="161.4" r="1.7"/><circle cx="190.3" cy="178.4" r="1.7"/><circle cx="205.3" cy="158.5" r="1.7"/><circle cx="182.0" cy="183.9" r="1.7"/><circle cx="185.0" cy="192.4" r="1.7"/><circle cx="186.8" cy="179.9" r="1.7"/><circle cx="203.2" cy="159.7" r="1.7"/><circle cx="200.8" cy="168.2" r="1.7"/><circle cx="178.0" cy="200.1" r="1.7"/><circle cx="203.0" cy="157.8" r="1.7"/><circle cx="225.8" cy="134.3" r="1.7"/><circle cx="212.8" cy="154.3" r="1.7"/><circle cx="188.7" cy="177.6" r="1.7"/><circle cx="200.1" cy="165.4" r="1.7"/><circle cx="188.1" cy="178.9" r="1.7"/><circle cx="197.8" cy="174.1" r="1.7"/><circle cx="185.6" cy="174.2" r="1.7"/><circle cx="218.2" cy="140.3" r="1.7"/><circle cx="207.8" cy="160.8" r="1.7"/><circle cx="225.5" cy="135.1" r="1.7"/><circle cx="221.0" cy="138.6" r="1.7"/><circle cx="184.2" cy="187.7" r="1.7"/><circle cx="183.9" cy="186.7" r="1.7"/><circle cx="210.1" cy="150.0" r="1.7"/><circle cx="216.0" cy="149.7" r="1.7"/><circle cx="225.1" cy="132.0" r="1.7"/><circle cx="179.5" cy="192.0" r="1.7"/><circle cx="188.6" cy="178.1" r="1.7"/><circle cx="222.1" cy="141.7" r="1.7"/><circle cx="178.1" cy="184.1" r="1.7"/><circle cx="203.9" cy="169.3" r="1.7"/><circle cx="214.3" cy="152.4" r="1.7"/><circle cx="187.7" cy="173.6" r="1.7"/><circle cx="186.9" cy="175.9" r="1.7"/><circle cx="222.0" cy="143.0" r="1.7"/><circle cx="181.4" cy="190.3" r="1.7"/><circle cx="198.9" cy="159.9" r="1.7"/><circle cx="225.7" cy="149.8" r="1.7"/><circle cx="188.9" cy="186.3" r="1.7"/><circle cx="198.8" cy="172.8" r="1.7"/><circle cx="209.0" cy="163.2" r="1.7"/><circle cx="198.0" cy="163.1" r="1.7"/><circle cx="216.7" cy="149.3" r="1.7"/><circle cx="198.1" cy="175.2" r="1.7"/><circle cx="210.6" cy="166.6" r="1.7"/><circle cx="195.3" cy="175.6" r="1.7"/><circle cx="179.7" cy="181.7" r="1.7"/><circle cx="188.5" cy="175.8" r="1.7"/><circle cx="198.3" cy="164.4" r="1.7"/><circle cx="223.5" cy="141.9" r="1.7"/><circle cx="195.1" cy="181.2" r="1.7"/><circle cx="216.3" cy="156.3" r="1.7"/><circle cx="222.3" cy="149.2" r="1.7"/><circle cx="191.1" cy="186.5" r="1.7"/><circle cx="176.8" cy="200.3" r="1.7"/><circle cx="197.0" cy="168.0" r="1.7"/><circle cx="199.8" cy="166.3" r="1.7"/><circle cx="219.6" cy="153.5" r="1.7"/><circle cx="213.8" cy="148.3" r="1.7"/><circle cx="198.0" cy="161.7" r="1.7"/><circle cx="213.5" cy="144.7" r="1.7"/><circle cx="195.8" cy="165.6" r="1.7"/><circle cx="219.2" cy="156.2" r="1.7"/><circle cx="190.3" cy="185.6" r="1.7"/><circle cx="184.6" cy="188.5" r="1.7"/><circle cx="188.3" cy="179.3" r="1.7"/><circle cx="206.8" cy="157.9" r="1.7"/><circle cx="185.6" cy="185.0" r="1.7"/><circle cx="216.2" cy="160.8" r="1.7"/><circle cx="192.0" cy="171.7" r="1.7"/><circle cx="179.4" cy="183.9" r="1.7"/><circle cx="176.8" cy="187.6" r="1.7"/><circle cx="212.7" cy="147.0" r="1.7"/><circle cx="208.6" cy="154.9" r="1.7"/><circle cx="187.2" cy="181.2" r="1.7"/><circle cx="197.8" cy="169.3" r="1.7"/><circle cx="181.5" cy="188.8" r="1.7"/><circle cx="221.7" cy="135.4" r="1.7"/><circle cx="179.6" cy="191.2" r="1.7"/><circle cx="191.8" cy="171.8" r="1.7"/><circle cx="226.1" cy="136.7" r="1.7"/><circle cx="222.7" cy="146.5" r="1.7"/><circle cx="177.0" cy="187.6" r="1.7"/><circle cx="179.3" cy="190.6" r="1.7"/><circle cx="222.0" cy="136.0" r="1.7"/><circle cx="176.9" cy="183.1" r="1.7"/><circle cx="189.5" cy="172.6" r="1.7"/><circle cx="225.1" cy="147.0" r="1.7"/><circle cx="223.6" cy="144.7" r="1.7"/><circle cx="217.6" cy="153.7" r="1.7"/><circle cx="190.4" cy="181.1" r="1.7"/><circle cx="190.3" cy="177.6" r="1.7"/><circle cx="217.7" cy="143.9" r="1.7"/><circle cx="184.4" cy="191.4" r="1.7"/><circle cx="199.2" cy="162.4" r="1.7"/><circle cx="191.8" cy="172.4" r="1.7"/><circle cx="221.4" cy="144.9" r="1.7"/><circle cx="222.7" cy="143.6" r="1.7"/><circle cx="223.6" cy="151.4" r="1.7"/><circle cx="204.6" cy="168.9" r="1.7"/><circle cx="190.2" cy="170.8" r="1.7"/><circle cx="206.4" cy="152.5" r="1.7"/><circle cx="199.4" cy="171.0" r="1.7"/><circle cx="214.8" cy="160.3" r="1.7"/><circle cx="185.9" cy="190.1" r="1.7"/><circle cx="200.9" cy="169.5" r="1.7"/><circle cx="199.1" cy="175.8" r="1.7"/><circle cx="190.8" cy="168.0" r="1.7"/><circle cx="218.0" cy="152.3" r="1.7"/><circle cx="212.2" cy="147.7" r="1.7"/><circle cx="186.0" cy="185.3" r="1.7"/><circle cx="213.8" cy="156.7" r="1.7"/><circle cx="206.0" cy="164.8" r="1.7"/><circle cx="183.0" cy="184.9" r="1.7"/><circle cx="192.4" cy="180.8" r="1.7"/><circle cx="202.0" cy="170.3" r="1.7"/><circle cx="211.1" cy="164.4" r="1.7"/><circle cx="219.4" cy="138.8" r="1.7"/><circle cx="209.7" cy="155.3" r="1.7"/><circle cx="180.6" cy="188.0" r="1.7"/><circle cx="218.7" cy="154.2" r="1.7"/><circle cx="180.9" cy="182.3" r="1.7"/><circle cx="211.1" cy="165.6" r="1.7"/><circle cx="179.4" cy="181.6" r="1.7"/><circle cx="211.1" cy="158.6" r="1.7"/><circle cx="217.1" cy="144.1" r="1.7"/><circle cx="200.8" cy="173.2" r="1.7"/><circle cx="195.1" cy="171.3" r="1.7"/><circle cx="177.1" cy="198.0" r="1.7"/><circle cx="198.4" cy="167.4" r="1.7"/><circle cx="209.1" cy="165.5" r="1.7"/><circle cx="219.9" cy="144.0" r="1.7"/><circle cx="206.7" cy="158.8" r="1.7"/><circle cx="218.5" cy="154.4" r="1.7"/><circle cx="209.4" cy="164.6" r="1.7"/><circle cx="201.6" cy="167.8" r="1.7"/><circle cx="183.8" cy="189.2" r="1.7"/><circle cx="190.2" cy="179.6" r="1.7"/><circle cx="175.6" cy="191.8" r="1.7"/><circle cx="207.0" cy="163.2" r="1.7"/><circle cx="204.4" cy="158.5" r="1.7"/><circle cx="209.0" cy="161.7" r="1.7"/><circle cx="205.7" cy="159.6" r="1.7"/><circle cx="183.2" cy="186.8" r="1.7"/><circle cx="178.1" cy="199.3" r="1.7"/><circle cx="193.5" cy="170.6" r="1.7"/><circle cx="198.6" cy="161.7" r="1.7"/><circle cx="220.8" cy="155.6" r="1.7"/><circle cx="217.7" cy="150.9" r="1.7"/><circle cx="223.7" cy="139.7" r="1.7"/><circle cx="199.3" cy="162.3" r="1.7"/><circle cx="197.2" cy="179.4" r="1.7"/><circle cx="209.5" cy="159.0" r="1.7"/><circle cx="202.9" cy="167.6" r="1.7"/><circle cx="206.7" cy="160.0" r="1.7"/><circle cx="201.7" cy="158.4" r="1.7"/><circle cx="198.2" cy="173.4" r="1.7"/><circle cx="186.9" cy="177.4" r="1.7"/><circle cx="216.7" cy="143.2" r="1.7"/><circle cx="185.5" cy="189.7" r="1.7"/><circle cx="181.7" cy="183.4" r="1.7"/><circle cx="222.2" cy="143.0" r="1.7"/><circle cx="217.4" cy="155.0" r="1.7"/><circle cx="176.5" cy="187.3" r="1.7"/><circle cx="222.2" cy="141.1" r="1.7"/><circle cx="196.2" cy="180.7" r="1.7"/><circle cx="181.1" cy="197.3" r="1.7"/><circle cx="208.6" cy="161.5" r="1.7"/><circle cx="175.5" cy="196.5" r="1.7"/><circle cx="217.6" cy="147.4" r="1.7"/><circle cx="179.2" cy="182.7" r="1.7"/><circle cx="179.4" cy="188.0" r="1.7"/><circle cx="217.4" cy="141.0" r="1.7"/><circle cx="196.3" cy="170.0" r="1.7"/><circle cx="195.9" cy="172.9" r="1.7"/><circle cx="202.9" cy="159.1" r="1.7"/><circle cx="216.2" cy="151.3" r="1.7"/><circle cx="193.5" cy="184.1" r="1.7"/><circle cx="211.7" cy="149.1" r="1.7"/><circle cx="225.2" cy="143.1" r="1.7"/><circle cx="192.9" cy="170.3" r="1.7"/><circle cx="178.9" cy="185.2" r="1.7"/><circle cx="190.3" cy="175.2" r="1.7"/><circle cx="226.1" cy="142.4" r="1.7"/><circle cx="185.3" cy="181.0" r="1.7"/><circle cx="197.6" cy="162.3" r="1.7"/><circle cx="199.5" cy="168.8" r="1.7"/><circle cx="222.1" cy="143.4" r="1.7"/><circle cx="210.8" cy="160.3" r="1.7"/><circle cx="184.4" cy="185.8" r="1.7"/><circle cx="198.5" cy="163.0" r="1.7"/><circle cx="176.7" cy="202.4" r="1.7"/><circle cx="180.1" cy="196.7" r="1.7"/><circle cx="194.3" cy="165.8" r="1.7"/><circle cx="224.9" cy="145.0" r="1.7"/><circle cx="196.2" cy="178.7" r="1.7"/><circle cx="211.8" cy="154.0" r="1.7"/><circle cx="212.3" cy="159.8" r="1.7"/><circle cx="184.3" cy="188.9" r="1.7"/><circle cx="222.5" cy="148.1" r="1.7"/><circle cx="216.5" cy="160.4" r="1.7"/><circle cx="216.3" cy="150.3" r="1.7"/><circle cx="204.3" cy="168.8" r="1.7"/><circle cx="207.9" cy="151.2" r="1.7"/><circle cx="178.5" cy="186.2" r="1.7"/><circle cx="217.4" cy="144.2" r="1.7"/><circle cx="191.8" cy="183.1" r="1.7"/><circle cx="182.1" cy="182.6" r="1.7"/><circle cx="188.6" cy="171.1" r="1.7"/><circle cx="213.5" cy="150.2" r="1.7"/><circle cx="196.4" cy="168.6" r="1.7"/><circle cx="178.8" cy="197.2" r="1.7"/><circle cx="182.3" cy="182.4" r="1.7"/><circle cx="212.4" cy="152.0" r="1.7"/><circle cx="201.4" cy="163.2" r="1.7"/><circle cx="204.2" cy="160.0" r="1.7"/><circle cx="198.9" cy="179.3" r="1.7"/><circle cx="176.2" cy="209.9" r="1.7"/><circle cx="217.4" cy="173.4" r="1.7"/><circle cx="216.7" cy="167.6" r="1.7"/><circle cx="208.5" cy="178.2" r="1.7"/><circle cx="212.9" cy="178.0" r="1.7"/><circle cx="193.1" cy="191.4" r="1.7"/><circle cx="215.4" cy="164.7" r="1.7"/><circle cx="180.4" cy="211.0" r="1.7"/><circle cx="176.3" cy="215.2" r="1.7"/><circle cx="222.4" cy="156.6" r="1.7"/><circle cx="214.2" cy="167.0" r="1.7"/><circle cx="189.4" cy="202.7" r="1.7"/><circle cx="221.0" cy="166.4" r="1.7"/><circle cx="197.8" cy="193.8" r="1.7"/><circle cx="204.7" cy="186.4" r="1.7"/><circle cx="212.5" cy="165.5" r="1.7"/><circle cx="216.4" cy="172.2" r="1.7"/><circle cx="220.6" cy="164.7" r="1.7"/><circle cx="177.4" cy="213.7" r="1.7"/><circle cx="197.1" cy="183.7" r="1.7"/><circle cx="186.1" cy="195.3" r="1.7"/><circle cx="217.3" cy="160.7" r="1.7"/><circle cx="222.6" cy="154.4" r="1.7"/><circle cx="212.5" cy="167.9" r="1.7"/><circle cx="201.9" cy="178.4" r="1.7"/><circle cx="221.6" cy="157.3" r="1.7"/><circle cx="199.4" cy="186.9" r="1.7"/><circle cx="198.7" cy="182.3" r="1.7"/><circle cx="190.3" cy="201.0" r="1.7"/><circle cx="181.9" cy="197.3" r="1.7"/><circle cx="222.1" cy="166.9" r="1.7"/><circle cx="210.6" cy="173.3" r="1.7"/><circle cx="224.3" cy="158.0" r="1.7"/><circle cx="176.1" cy="209.1" r="1.7"/><circle cx="202.6" cy="182.7" r="1.7"/><circle cx="221.0" cy="156.7" r="1.7"/><circle cx="219.3" cy="164.8" r="1.7"/><circle cx="213.0" cy="169.9" r="1.7"/><circle cx="190.6" cy="192.4" r="1.7"/><circle cx="189.5" cy="195.2" r="1.7"/><circle cx="206.1" cy="182.9" r="1.7"/><circle cx="184.4" cy="200.6" r="1.7"/><circle cx="202.7" cy="186.3" r="1.7"/><circle cx="211.9" cy="174.0" r="1.7"/><circle cx="210.0" cy="173.5" r="1.7"/><circle cx="216.8" cy="171.7" r="1.7"/><circle cx="204.5" cy="174.8" r="1.7"/><circle cx="197.3" cy="184.4" r="1.7"/><circle cx="185.3" cy="197.5" r="1.7"/><circle cx="217.5" cy="164.3" r="1.7"/><circle cx="197.5" cy="185.8" r="1.7"/><circle cx="184.9" cy="201.7" r="1.7"/><circle cx="196.8" cy="194.1" r="1.7"/><circle cx="207.2" cy="183.8" r="1.7"/><circle cx="219.5" cy="164.1" r="1.7"/><circle cx="176.3" cy="205.8" r="1.7"/><circle cx="181.6" cy="207.5" r="1.7"/></g>
<polygon points="42.60,324.06 364.37,-14.87 364.37,18.44 42.60,357.37" fill="#ff8080" fill-opacity="0.52" stroke="#ff8080" stroke-opacity="0.52" stroke-width="1"/>
<line x1="50.45" y1="321.17" x2="356.52" y2="-1.23" stroke="#000" stroke-opacity="0.55" stroke-width="2.9"/>
<line x1="42.60" y1="340.76" x2="364.37" y2="1.83" stroke="#b22222" stroke-width="3.2"/>
<g stroke="#000080" stroke-width="2.1" fill="none"><line x1="103.7" y1="272.0" x2="103.7" y2="330"/><line x1="101.4" y1="272.0" x2="106.0" y2="272.0"/><line x1="101.4" y1="330" x2="106.0" y2="330"/><line x1="116.6" y1="260.3" x2="116.6" y2="292.3"/><line x1="114.3" y1="260.3" x2="118.89999999999999" y2="260.3"/><line x1="114.3" y1="292.3" x2="118.89999999999999" y2="292.3"/><line x1="129.4" y1="241.2" x2="129.4" y2="269.2"/><line x1="127.10000000000001" y1="241.2" x2="131.70000000000002" y2="241.2"/><line x1="127.10000000000001" y1="269.2" x2="131.70000000000002" y2="269.2"/><line x1="141.9" y1="227.0" x2="141.9" y2="253.8"/><line x1="139.6" y1="227.0" x2="144.20000000000002" y2="227.0"/><line x1="139.6" y1="253.8" x2="144.20000000000002" y2="253.8"/><line x1="154.4" y1="210.6" x2="154.4" y2="237.3"/><line x1="152.1" y1="210.6" x2="156.70000000000002" y2="210.6"/><line x1="152.1" y1="237.3" x2="156.70000000000002" y2="237.3"/><line x1="167.3" y1="193.3" x2="167.3" y2="220.3"/><line x1="165.0" y1="193.3" x2="169.60000000000002" y2="193.3"/><line x1="165.0" y1="220.3" x2="169.60000000000002" y2="220.3"/><line x1="179.9" y1="174.9" x2="179.9" y2="202.3"/><line x1="177.6" y1="174.9" x2="182.20000000000002" y2="174.9"/><line x1="177.6" y1="202.3" x2="182.20000000000002" y2="202.3"/><line x1="192.5" y1="165.0" x2="192.5" y2="186.4"/><line x1="190.2" y1="165.0" x2="194.8" y2="165.0"/><line x1="190.2" y1="186.4" x2="194.8" y2="186.4"/><line x1="205.2" y1="147.7" x2="205.2" y2="169.4"/><line x1="202.89999999999998" y1="147.7" x2="207.5" y2="147.7"/><line x1="202.89999999999998" y1="169.4" x2="207.5" y2="169.4"/><line x1="218.0" y1="138.6" x2="218.0" y2="157.2"/><line x1="215.7" y1="138.6" x2="220.3" y2="138.6"/><line x1="215.7" y1="157.2" x2="220.3" y2="157.2"/><line x1="230.7" y1="121.6" x2="230.7" y2="139.3"/><line x1="228.39999999999998" y1="121.6" x2="233.0" y2="121.6"/><line x1="228.39999999999998" y1="139.3" x2="233.0" y2="139.3"/><line x1="243.3" y1="113.4" x2="243.3" y2="133.1"/><line x1="241.0" y1="113.4" x2="245.60000000000002" y2="113.4"/><line x1="241.0" y1="133.1" x2="245.60000000000002" y2="133.1"/><line x1="255.8" y1="97.4" x2="255.8" y2="118.8"/><line x1="253.5" y1="97.4" x2="258.1" y2="97.4"/><line x1="253.5" y1="118.8" x2="258.1" y2="118.8"/><line x1="268.7" y1="88.4" x2="268.7" y2="110.2"/><line x1="266.4" y1="88.4" x2="271.0" y2="88.4"/><line x1="266.4" y1="110.2" x2="271.0" y2="110.2"/><line x1="281.4" y1="87.8" x2="281.4" y2="112.2"/><line x1="279.09999999999997" y1="87.8" x2="283.7" y2="87.8"/><line x1="279.09999999999997" y1="112.2" x2="283.7" y2="112.2"/></g><g fill="#1e90ff" stroke="#000080" stroke-width="2.5"><polygon points="103.70,287.75 100.37,289.68 100.37,293.53 103.70,295.45 107.03,293.53 107.03,289.68"/><polygon points="116.60,272.35 113.27,274.27 113.27,278.12 116.60,280.05 119.93,278.12 119.93,274.27"/><polygon points="129.40,251.65 126.07,253.57 126.07,257.43 129.40,259.35 132.73,257.43 132.73,253.57"/><polygon points="141.90,237.05 138.57,238.97 138.57,242.83 141.90,244.75 145.23,242.83 145.23,238.97"/><polygon points="154.40,219.75 151.07,221.67 151.07,225.53 154.40,227.45 157.73,225.53 157.73,221.67"/><polygon points="167.30,203.15 163.97,205.07 163.97,208.93 167.30,210.85 170.63,208.93 170.63,205.07"/><polygon points="179.90,184.95 176.57,186.88 176.57,190.73 179.90,192.65 183.23,190.73 183.23,186.88"/><polygon points="192.50,171.95 189.17,173.88 189.17,177.73 192.50,179.65 195.83,177.73 195.83,173.88"/><polygon points="205.20,154.95 201.87,156.88 201.87,160.73 205.20,162.65 208.53,160.73 208.53,156.88"/><polygon points="218.00,143.65 214.67,145.57 214.67,149.43 218.00,151.35 221.33,149.43 221.33,145.57"/><polygon points="230.70,126.85 227.37,128.77 227.37,132.62 230.70,134.55 234.03,132.62 234.03,128.77"/><polygon points="243.30,119.55 239.97,121.48 239.97,125.33 243.30,127.25 246.63,125.33 246.63,121.48"/><polygon points="255.80,104.35 252.47,106.28 252.47,110.12 255.80,112.05 259.13,110.12 259.13,106.28"/><polygon points="268.70,95.85 265.37,97.78 265.37,101.62 268.70,103.55 272.03,101.62 272.03,97.78"/><polygon points="281.40,96.25 278.07,98.17 278.07,102.02 281.40,103.95 284.73,102.02 284.73,98.17"/></g>
</g>
<rect x="58.3" y="2.9" width="294.30" height="310.00" fill="none" stroke="#000" stroke-width="1.1"/><g stroke="#000" stroke-width="1.1"><line x1="97.54" y1="312.9" x2="97.54" y2="308.5"/><line x1="97.54" y1="2.9" x2="97.54" y2="7.300000000000001"/><line x1="176.02" y1="312.9" x2="176.02" y2="308.5"/><line x1="176.02" y1="2.9" x2="176.02" y2="7.300000000000001"/><line x1="254.50" y1="312.9" x2="254.50" y2="308.5"/><line x1="254.50" y1="2.9" x2="254.50" y2="7.300000000000001"/><line x1="332.98" y1="312.9" x2="332.98" y2="308.5"/><line x1="332.98" y1="2.9" x2="332.98" y2="7.300000000000001"/><line x1="58.3" y1="23.57" x2="62.699999999999996" y2="23.57"/><line x1="352.6" y1="23.57" x2="348.20000000000005" y2="23.57"/><line x1="58.3" y1="64.90" x2="62.699999999999996" y2="64.90"/><line x1="352.6" y1="64.90" x2="348.20000000000005" y2="64.90"/><line x1="58.3" y1="106.23" x2="62.699999999999996" y2="106.23"/><line x1="352.6" y1="106.23" x2="348.20000000000005" y2="106.23"/><line x1="58.3" y1="147.57" x2="62.699999999999996" y2="147.57"/><line x1="352.6" y1="147.57" x2="348.20000000000005" y2="147.57"/><line x1="58.3" y1="188.90" x2="62.699999999999996" y2="188.90"/><line x1="352.6" y1="188.90" x2="348.20000000000005" y2="188.90"/><line x1="58.3" y1="230.23" x2="62.699999999999996" y2="230.23"/><line x1="352.6" y1="230.23" x2="348.20000000000005" y2="230.23"/><line x1="58.3" y1="271.57" x2="62.699999999999996" y2="271.57"/><line x1="352.6" y1="271.57" x2="348.20000000000005" y2="271.57"/><line x1="58.3" y1="312.90" x2="62.699999999999996" y2="312.90"/><line x1="352.6" y1="312.90" x2="348.20000000000005" y2="312.90"/></g>
<g font-family='"Liberation Serif", serif' font-size="16.8" fill="#000"><rect x="87.34" y="324.15" width="9.4" height="0.95"/><text x="98.74" y="328.6">3</text><rect x="165.82" y="324.15" width="9.4" height="0.95"/><text x="177.22" y="328.6">2</text><rect x="244.30" y="324.15" width="9.4" height="0.95"/><text x="255.70" y="328.6">1</text><text x="332.98" y="327.6" text-anchor="middle">0</text><text x="55.30" y="29.07" text-anchor="end">0.0</text><text x="53.70" y="71.70" text-anchor="end">0.5</text><text x="53.70" y="113.03" text-anchor="end">1.0</text><text x="53.70" y="154.37" text-anchor="end">1.5</text><text x="53.70" y="195.70" text-anchor="end">2.0</text><text x="53.70" y="237.03" text-anchor="end">2.5</text><text x="53.70" y="278.37" text-anchor="end">3.0</text><text x="53.70" y="319.70" text-anchor="end">3.5</text></g><rect x="21.70" y="67.25" width="9.4" height="0.95"/><rect x="21.70" y="108.58" width="9.4" height="0.95"/><rect x="21.70" y="149.92" width="9.4" height="0.95"/><rect x="21.70" y="191.25" width="9.4" height="0.95"/><rect x="21.70" y="232.58" width="9.4" height="0.95"/><rect x="21.70" y="273.92" width="9.4" height="0.95"/><rect x="21.70" y="315.25" width="9.4" height="0.95"/>
<g clip-path="url(#cr)">
<g stroke="#707070" stroke-width="0.9" stroke-dasharray="1.3,1.42"><line x1="475.11" y1="2.9" x2="475.11" y2="312.9"/><line x1="548.54" y1="2.9" x2="548.54" y2="312.9"/><line x1="621.96" y1="2.9" x2="621.96" y2="312.9"/><line x1="695.39" y1="2.9" x2="695.39" y2="312.9"/><line x1="438.4" y1="23.57" x2="732.1" y2="23.57"/><line x1="438.4" y1="64.90" x2="732.1" y2="64.90"/><line x1="438.4" y1="106.23" x2="732.1" y2="106.23"/><line x1="438.4" y1="147.57" x2="732.1" y2="147.57"/><line x1="438.4" y1="188.90" x2="732.1" y2="188.90"/><line x1="438.4" y1="230.23" x2="732.1" y2="230.23"/><line x1="438.4" y1="271.57" x2="732.1" y2="271.57"/><line x1="438.4" y1="312.90" x2="732.1" y2="312.90"/></g>
<g fill="#d8d8d8" stroke="#9e9e9e" stroke-width="1.0"><circle cx="446.2" cy="19.3" r="1.7"/><circle cx="480.0" cy="52.0" r="1.7"/><circle cx="481.8" cy="59.4" r="1.7"/><circle cx="515.4" cy="59.4" r="1.7"/><circle cx="517.3" cy="57.8" r="1.7"/><circle cx="533.1" cy="57.8" r="1.7"/><circle cx="506.3" cy="68.3" r="1.7"/><circle cx="557.3" cy="35.6" r="1.7"/><circle cx="554.5" cy="54.7" r="1.7"/><circle cx="559.9" cy="60.1" r="1.7"/><circle cx="571.3" cy="58.2" r="1.7"/><circle cx="583.2" cy="51.3" r="1.7"/><circle cx="535.9" cy="67.1" r="1.7"/><circle cx="531.7" cy="70.6" r="1.7"/><circle cx="540.6" cy="73.4" r="1.7"/><circle cx="551.8" cy="65.9" r="1.7"/><circle cx="560.8" cy="65.9" r="1.7"/><circle cx="576.7" cy="64.8" r="1.7"/><circle cx="580.7" cy="64.1" r="1.7"/><circle cx="582.5" cy="71.8" r="1.7"/><circle cx="568.1" cy="72.2" r="1.7"/><circle cx="561.5" cy="71.8" r="1.7"/><circle cx="554.5" cy="75.7" r="1.7"/><circle cx="471.3" cy="78.8" r="1.7"/><circle cx="487.4" cy="80.4" r="1.7"/><circle cx="506.3" cy="77.1" r="1.7"/><circle cx="503.3" cy="79.9" r="1.7"/><circle cx="517.3" cy="77.1" r="1.7"/><circle cx="513.1" cy="80.6" r="1.7"/><circle cx="520.8" cy="82.7" r="1.7"/><circle cx="528.9" cy="78.8" r="1.7"/><circle cx="534.0" cy="78.1" r="1.7"/><circle cx="544.1" cy="77.6" r="1.7"/><circle cx="546.4" cy="76.4" r="1.7"/><circle cx="547.6" cy="79.9" r="1.7"/><circle cx="565.7" cy="78.8" r="1.7"/><circle cx="572.0" cy="77.1" r="1.7"/><circle cx="574.4" cy="79.9" r="1.7"/><circle cx="577.9" cy="78.8" r="1.7"/><circle cx="475.3" cy="85.0" r="1.7"/><circle cx="485.8" cy="84.6" r="1.7"/><circle cx="500.5" cy="85.0" r="1.7"/><circle cx="534.7" cy="83.4" r="1.7"/><circle cx="580.2" cy="83.4" r="1.7"/><circle cx="553.4" cy="79.9" r="1.7"/><circle cx="559.2" cy="81.1" r="1.7"/><circle cx="586.9" cy="77.1" r="1.7"/><circle cx="593.9" cy="74.8" r="1.7"/><circle cx="595.5" cy="81.8" r="1.7"/><circle cx="592.5" cy="82.7" r="1.7"/><circle cx="587.8" cy="83.4" r="1.7"/><circle cx="617.2" cy="78.1" r="1.7"/><circle cx="603.6" cy="85.0" r="1.7"/><circle cx="636.7" cy="90.7" r="1.7"/><circle cx="650.7" cy="115.8" r="1.7"/><circle cx="638.1" cy="115.8" r="1.7"/><circle cx="642.1" cy="142.0" r="1.7"/><circle cx="653.0" cy="141.5" r="1.7"/><circle cx="666.6" cy="155.5" r="1.7"/><circle cx="696.4" cy="158.7" r="1.7"/><circle cx="625.8" cy="157.8" r="1.7"/><circle cx="620.0" cy="160.6" r="1.7"/><circle cx="628.0" cy="151.3" r="1.7"/><circle cx="665.4" cy="165.3" r="1.7"/><circle cx="445.6" cy="253.0" r="1.7"/><circle cx="453.0" cy="248.0" r="1.7"/><circle cx="449.0" cy="266.0" r="1.7"/><circle cx="462.4" cy="261.4" r="1.7"/><circle cx="465.6" cy="272.0" r="1.7"/><circle cx="471.0" cy="267.0" r="1.7"/><circle cx="471.6" cy="280.0" r="1.7"/><circle cx="471.0" cy="248.0" r="1.7"/><circle cx="474.0" cy="247.4" r="1.7"/><circle cx="474.4" cy="252.6" r="1.7"/><circle cx="479.0" cy="247.4" r="1.7"/><circle cx="478.0" cy="258.6" r="1.7"/><circle cx="485.6" cy="259.4" r="1.7"/><circle cx="485.0" cy="252.0" r="1.7"/><circle cx="489.0" cy="251.0" r="1.7"/><circle cx="490.0" cy="246.6" r="1.7"/><circle cx="495.6" cy="261.4" r="1.7"/><circle cx="489.0" cy="269.4" r="1.7"/><circle cx="497.0" cy="275.4" r="1.7"/><circle cx="499.6" cy="276.0" r="1.7"/><circle cx="506.0" cy="245.4" r="1.7"/><circle cx="512.4" cy="245.4" r="1.7"/><circle cx="520.4" cy="247.4" r="1.7"/><circle cx="531.0" cy="248.0" r="1.7"/><circle cx="532.0" cy="254.0" r="1.7"/><circle cx="532.4" cy="256.6" r="1.7"/><circle cx="533.6" cy="260.0" r="1.7"/><circle cx="529.6" cy="269.4" r="1.7"/><circle cx="535.6" cy="270.0" r="1.7"/><circle cx="537.0" cy="265.4" r="1.7"/><circle cx="545.0" cy="254.6" r="1.7"/><circle cx="544.0" cy="275.4" r="1.7"/><circle cx="531.0" cy="285.4" r="1.7"/><circle cx="532.0" cy="302.0" r="1.7"/><circle cx="516.0" cy="306.0" r="1.7"/><circle cx="507.0" cy="309.0" r="1.7"/><circle cx="446.0" cy="304.0" r="1.7"/><circle cx="587.3" cy="184.5" r="1.7"/><circle cx="588.5" cy="188.4" r="1.7"/><circle cx="603.6" cy="182.6" r="1.7"/><circle cx="614.1" cy="197.8" r="1.7"/><circle cx="637.4" cy="197.8" r="1.7"/><circle cx="644.4" cy="200.1" r="1.7"/><circle cx="669.4" cy="180.5" r="1.7"/><circle cx="675.9" cy="178.2" r="1.7"/><circle cx="670.8" cy="194.3" r="1.7"/><circle cx="722.5" cy="179.8" r="1.7"/><circle cx="625.8" cy="165.1" r="1.7"/><circle cx="667.7" cy="168.9" r="1.7"/><circle cx="587.3" cy="167.5" r="1.7"/><circle cx="601.3" cy="205.5" r="1.7"/><circle cx="636.3" cy="220.0" r="1.7"/><circle cx="696.9" cy="219.4" r="1.7"/><circle cx="592.0" cy="234.0" r="1.7"/><circle cx="441.1" cy="177.6" r="1.7"/><circle cx="451.5" cy="182.4" r="1.7"/><circle cx="459.3" cy="179.1" r="1.7"/><circle cx="463.5" cy="183.5" r="1.7"/><circle cx="462.4" cy="185.9" r="1.7"/><circle cx="471.3" cy="180.7" r="1.7"/><circle cx="469.7" cy="183.8" r="1.7"/><circle cx="474.9" cy="179.6" r="1.7"/><circle cx="476.5" cy="183.3" r="1.7"/><circle cx="478.0" cy="185.9" r="1.7"/><circle cx="468.1" cy="188.3" r="1.7"/><circle cx="473.9" cy="188.7" r="1.7"/><circle cx="464.0" cy="191.6" r="1.7"/><circle cx="467.6" cy="192.6" r="1.7"/><circle cx="460.3" cy="193.9" r="1.7"/><circle cx="471.8" cy="194.2" r="1.7"/><circle cx="474.4" cy="194.9" r="1.7"/><circle cx="465.5" cy="196.3" r="1.7"/><circle cx="461.7" cy="198.3" r="1.7"/><circle cx="470.2" cy="196.8" r="1.7"/><circle cx="474.9" cy="197.8" r="1.7"/><circle cx="478.0" cy="196.3" r="1.7"/><circle cx="467.1" cy="201.0" r="1.7"/><circle cx="475.4" cy="201.2" r="1.7"/><circle cx="449.4" cy="200.1" r="1.7"/><circle cx="470.7" cy="204.1" r="1.7"/><circle cx="473.9" cy="205.6" r="1.7"/><circle cx="475.9" cy="207.2" r="1.7"/><circle cx="465.5" cy="207.0" r="1.7"/><circle cx="467.6" cy="209.8" r="1.7"/><circle cx="449.2" cy="208.2" r="1.7"/><circle cx="454.1" cy="210.3" r="1.7"/><circle cx="440.1" cy="207.7" r="1.7"/><circle cx="474.4" cy="211.3" r="1.7"/><circle cx="484.8" cy="181.2" r="1.7"/><circle cx="488.9" cy="179.1" r="1.7"/><circle cx="486.9" cy="184.3" r="1.7"/><circle cx="490.0" cy="185.9" r="1.7"/><circle cx="484.3" cy="188.5" r="1.7"/><circle cx="487.9" cy="189.5" r="1.7"/><circle cx="485.3" cy="192.6" r="1.7"/><circle cx="489.5" cy="193.2" r="1.7"/><circle cx="486.9" cy="196.3" r="1.7"/><circle cx="483.7" cy="198.3" r="1.7"/><circle cx="488.4" cy="199.9" r="1.7"/><circle cx="485.3" cy="202.5" r="1.7"/><circle cx="490.0" cy="204.1" r="1.7"/><circle cx="484.3" cy="207.2" r="1.7"/><circle cx="486.9" cy="210.3" r="1.7"/><circle cx="490.5" cy="211.3" r="1.7"/><circle cx="497.2" cy="179.1" r="1.7"/><circle cx="500.4" cy="180.7" r="1.7"/><circle cx="498.8" cy="185.9" r="1.7"/><circle cx="496.7" cy="188.5" r="1.7"/><circle cx="500.9" cy="189.5" r="1.7"/><circle cx="497.2" cy="194.7" r="1.7"/><circle cx="498.3" cy="198.3" r="1.7"/><circle cx="501.4" cy="201.0" r="1.7"/><circle cx="496.7" cy="202.0" r="1.7"/><circle cx="497.2" cy="206.7" r="1.7"/><circle cx="506.6" cy="179.1" r="1.7"/><circle cx="509.2" cy="182.2" r="1.7"/><circle cx="511.8" cy="180.2" r="1.7"/><circle cx="508.2" cy="188.5" r="1.7"/><circle cx="511.8" cy="189.0" r="1.7"/><circle cx="509.7" cy="197.3" r="1.7"/><circle cx="511.3" cy="199.4" r="1.7"/><circle cx="507.6" cy="203.0" r="1.7"/><circle cx="514.4" cy="194.7" r="1.7"/><circle cx="517.5" cy="194.2" r="1.7"/><circle cx="519.1" cy="197.8" r="1.7"/><circle cx="521.7" cy="198.3" r="1.7"/><circle cx="521.1" cy="179.6" r="1.7"/><circle cx="520.1" cy="185.9" r="1.7"/><circle cx="523.2" cy="187.4" r="1.7"/><circle cx="525.3" cy="184.8" r="1.7"/><circle cx="527.9" cy="186.4" r="1.7"/><circle cx="524.3" cy="190.6" r="1.7"/><circle cx="526.9" cy="191.1" r="1.7"/><circle cx="530.0" cy="191.6" r="1.7"/><circle cx="525.3" cy="194.2" r="1.7"/><circle cx="528.4" cy="194.7" r="1.7"/><circle cx="530.5" cy="184.3" r="1.7"/><circle cx="535.7" cy="186.4" r="1.7"/><circle cx="536.7" cy="179.1" r="1.7"/><circle cx="543.5" cy="180.2" r="1.7"/><circle cx="544.0" cy="191.6" r="1.7"/><circle cx="536.2" cy="195.2" r="1.7"/><circle cx="524.3" cy="199.4" r="1.7"/><circle cx="526.9" cy="201.0" r="1.7"/><circle cx="522.2" cy="202.0" r="1.7"/><circle cx="532.6" cy="201.0" r="1.7"/><circle cx="527.4" cy="203.5" r="1.7"/><circle cx="514.4" cy="203.5" r="1.7"/><circle cx="516.0" cy="206.1" r="1.7"/><circle cx="520.6" cy="206.1" r="1.7"/><circle cx="508.2" cy="209.3" r="1.7"/><circle cx="511.8" cy="210.3" r="1.7"/><circle cx="515.4" cy="209.3" r="1.7"/><circle cx="527.9" cy="209.8" r="1.7"/><circle cx="534.7" cy="206.1" r="1.7"/><circle cx="539.3" cy="206.1" r="1.7"/><circle cx="544.0" cy="196.3" r="1.7"/><circle cx="444.8" cy="215.2" r="1.7"/><circle cx="459.3" cy="215.0" r="1.7"/><circle cx="464.5" cy="215.0" r="1.7"/><circle cx="451.0" cy="221.9" r="1.7"/><circle cx="460.9" cy="224.5" r="1.7"/><circle cx="467.6" cy="218.8" r="1.7"/><circle cx="472.3" cy="215.7" r="1.7"/><circle cx="471.3" cy="220.4" r="1.7"/><circle cx="475.9" cy="217.2" r="1.7"/><circle cx="477.5" cy="219.8" r="1.7"/><circle cx="474.4" cy="227.6" r="1.7"/><circle cx="466.1" cy="231.8" r="1.7"/><circle cx="479.6" cy="230.8" r="1.7"/><circle cx="483.7" cy="234.9" r="1.7"/><circle cx="485.3" cy="228.7" r="1.7"/><circle cx="488.9" cy="231.3" r="1.7"/><circle cx="490.0" cy="236.5" r="1.7"/><circle cx="487.9" cy="220.9" r="1.7"/><circle cx="486.9" cy="215.2" r="1.7"/><circle cx="489.5" cy="216.2" r="1.7"/><circle cx="483.7" cy="212.6" r="1.7"/><circle cx="492.0" cy="222.4" r="1.7"/><circle cx="492.0" cy="239.1" r="1.7"/><circle cx="486.9" cy="241.1" r="1.7"/><circle cx="480.6" cy="241.7" r="1.7"/><circle cx="479.6" cy="244.8" r="1.7"/><circle cx="468.1" cy="241.1" r="1.7"/><circle cx="466.1" cy="244.3" r="1.7"/><circle cx="459.3" cy="242.2" r="1.7"/><circle cx="494.6" cy="214.1" r="1.7"/><circle cx="501.4" cy="213.1" r="1.7"/><circle cx="492.6" cy="219.3" r="1.7"/><circle cx="495.7" cy="220.9" r="1.7"/><circle cx="501.9" cy="219.3" r="1.7"/><circle cx="507.1" cy="219.3" r="1.7"/><circle cx="501.4" cy="224.0" r="1.7"/><circle cx="506.6" cy="223.0" r="1.7"/><circle cx="511.8" cy="217.8" r="1.7"/><circle cx="517.0" cy="215.2" r="1.7"/><circle cx="516.0" cy="221.9" r="1.7"/><circle cx="521.7" cy="212.0" r="1.7"/><circle cx="525.3" cy="213.1" r="1.7"/><circle cx="526.9" cy="217.2" r="1.7"/><circle cx="537.8" cy="220.9" r="1.7"/><circle cx="543.0" cy="213.6" r="1.7"/><circle cx="501.4" cy="230.2" r="1.7"/><circle cx="518.5" cy="228.7" r="1.7"/><circle cx="527.9" cy="228.2" r="1.7"/><circle cx="540.4" cy="230.2" r="1.7"/><circle cx="538.3" cy="233.9" r="1.7"/><circle cx="544.0" cy="236.0" r="1.7"/><circle cx="540.9" cy="239.6" r="1.7"/><circle cx="519.6" cy="234.4" r="1.7"/><circle cx="513.9" cy="236.5" r="1.7"/><circle cx="512.8" cy="239.6" r="1.7"/><circle cx="519.1" cy="241.7" r="1.7"/><circle cx="505.0" cy="242.7" r="1.7"/><circle cx="545.0" cy="177.1" r="1.7"/><circle cx="545.0" cy="186.5" r="1.7"/><circle cx="546.1" cy="193.2" r="1.7"/><circle cx="550.8" cy="195.3" r="1.7"/><circle cx="550.2" cy="186.5" r="1.7"/><circle cx="551.8" cy="183.4" r="1.7"/><circle cx="554.9" cy="177.1" r="1.7"/><circle cx="556.5" cy="182.8" r="1.7"/><circle cx="559.6" cy="178.2" r="1.7"/><circle cx="560.6" cy="181.3" r="1.7"/><circle cx="562.2" cy="184.4" r="1.7"/><circle cx="556.5" cy="192.5" r="1.7"/><circle cx="565.3" cy="195.3" r="1.7"/><circle cx="572.1" cy="182.8" r="1.7"/><circle cx="575.7" cy="182.8" r="1.7"/><circle cx="577.8" cy="178.7" r="1.7"/><circle cx="578.3" cy="188.6" r="1.7"/><circle cx="577.8" cy="192.7" r="1.7"/><circle cx="557.5" cy="201.0" r="1.7"/><circle cx="575.7" cy="201.9" r="1.7"/><circle cx="550.8" cy="207.3" r="1.7"/><circle cx="557.5" cy="205.7" r="1.7"/><circle cx="570.0" cy="206.7" r="1.7"/><circle cx="446.3" cy="90.2" r="1.7"/><circle cx="459.3" cy="91.2" r="1.7"/><circle cx="464.5" cy="88.3" r="1.7"/><circle cx="477.5" cy="86.2" r="1.7"/><circle cx="482.7" cy="87.9" r="1.7"/><circle cx="485.8" cy="88.1" r="1.7"/><circle cx="445.8" cy="95.9" r="1.7"/><circle cx="464.5" cy="103.7" r="1.7"/><circle cx="472.8" cy="103.2" r="1.7"/><circle cx="481.7" cy="100.6" r="1.7"/><circle cx="482.7" cy="103.2" r="1.7"/><circle cx="485.3" cy="94.3" r="1.7"/><circle cx="488.9" cy="102.6" r="1.7"/><circle cx="491.5" cy="96.9" r="1.7"/><circle cx="467.1" cy="105.8" r="1.7"/><circle cx="476.5" cy="105.8" r="1.7"/><circle cx="479.1" cy="106.3" r="1.7"/><circle cx="487.9" cy="107.8" r="1.7"/><circle cx="469.2" cy="113.5" r="1.7"/><circle cx="467.1" cy="118.2" r="1.7"/><circle cx="471.3" cy="117.2" r="1.7"/><circle cx="473.9" cy="116.1" r="1.7"/><circle cx="477.0" cy="111.5" r="1.7"/><circle cx="476.5" cy="114.1" r="1.7"/><circle cx="483.7" cy="115.1" r="1.7"/><circle cx="490.0" cy="116.1" r="1.7"/><circle cx="453.6" cy="121.9" r="1.7"/><circle cx="472.3" cy="121.3" r="1.7"/><circle cx="486.9" cy="121.3" r="1.7"/><circle cx="458.8" cy="127.8" r="1.7"/><circle cx="462.9" cy="127.4" r="1.7"/><circle cx="468.1" cy="124.6" r="1.7"/><circle cx="467.1" cy="131.4" r="1.7"/><circle cx="476.5" cy="128.3" r="1.7"/><circle cx="481.7" cy="123.1" r="1.7"/><circle cx="484.8" cy="125.2" r="1.7"/><circle cx="454.1" cy="139.7" r="1.7"/><circle cx="460.9" cy="140.2" r="1.7"/><circle cx="459.8" cy="144.9" r="1.7"/><circle cx="459.8" cy="148.5" r="1.7"/><circle cx="468.7" cy="142.8" r="1.7"/><circle cx="471.3" cy="141.8" r="1.7"/><circle cx="474.9" cy="140.8" r="1.7"/><circle cx="477.0" cy="142.8" r="1.7"/><circle cx="472.3" cy="145.4" r="1.7"/><circle cx="473.3" cy="148.0" r="1.7"/><circle cx="472.3" cy="151.1" r="1.7"/><circle cx="474.4" cy="153.2" r="1.7"/><circle cx="465.5" cy="152.2" r="1.7"/><circle cx="465.5" cy="155.3" r="1.7"/><circle cx="440.1" cy="148.5" r="1.7"/><circle cx="477.5" cy="137.6" r="1.7"/><circle cx="484.8" cy="139.2" r="1.7"/><circle cx="486.9" cy="142.8" r="1.7"/><circle cx="483.7" cy="147.0" r="1.7"/><circle cx="486.9" cy="149.1" r="1.7"/><circle cx="490.0" cy="144.9" r="1.7"/><circle cx="485.3" cy="154.3" r="1.7"/><circle cx="488.9" cy="152.2" r="1.7"/><circle cx="491.0" cy="139.7" r="1.7"/><circle cx="484.3" cy="130.4" r="1.7"/><circle cx="490.0" cy="127.2" r="1.7"/><circle cx="475.1" cy="158.4" r="1.7"/><circle cx="468.3" cy="160.5" r="1.7"/><circle cx="472.1" cy="161.4" r="1.7"/><circle cx="470.9" cy="163.9" r="1.7"/><circle cx="469.6" cy="166.0" r="1.7"/><circle cx="467.5" cy="168.1" r="1.7"/><circle cx="465.4" cy="169.8" r="1.7"/><circle cx="471.7" cy="169.4" r="1.7"/><circle cx="473.4" cy="171.9" r="1.7"/><circle cx="470.9" cy="173.2" r="1.7"/><circle cx="462.9" cy="174.9" r="1.7"/><circle cx="444.7" cy="169.0" r="1.7"/><circle cx="477.6" cy="166.4" r="1.7"/><circle cx="478.4" cy="161.0" r="1.7"/><circle cx="476.8" cy="170.2" r="1.7"/><circle cx="486.0" cy="161.0" r="1.7"/><circle cx="487.7" cy="165.2" r="1.7"/><circle cx="486.4" cy="171.1" r="1.7"/><circle cx="485.2" cy="174.4" r="1.7"/><circle cx="490.2" cy="158.4" r="1.7"/><circle cx="488.5" cy="175.3" r="1.7"/><circle cx="606.9" cy="88.6" r="1.7"/><circle cx="597.0" cy="90.7" r="1.7"/><circle cx="602.2" cy="94.8" r="1.7"/><circle cx="604.8" cy="98.0" r="1.7"/><circle cx="605.4" cy="100.6" r="1.7"/><circle cx="614.2" cy="94.8" r="1.7"/><circle cx="609.5" cy="107.8" r="1.7"/><circle cx="597.6" cy="112.0" r="1.7"/><circle cx="602.2" cy="113.0" r="1.7"/><circle cx="606.4" cy="118.2" r="1.7"/><circle cx="614.2" cy="120.3" r="1.7"/><circle cx="617.3" cy="117.2" r="1.7"/><circle cx="619.9" cy="109.9" r="1.7"/><circle cx="621.0" cy="106.8" r="1.7"/><circle cx="623.5" cy="95.9" r="1.7"/><circle cx="625.6" cy="101.6" r="1.7"/><circle cx="627.2" cy="108.3" r="1.7"/><circle cx="631.3" cy="102.6" r="1.7"/><circle cx="632.4" cy="111.5" r="1.7"/><circle cx="630.3" cy="117.2" r="1.7"/><circle cx="599.1" cy="124.1" r="1.7"/><circle cx="604.3" cy="123.1" r="1.7"/><circle cx="616.8" cy="121.5" r="1.7"/><circle cx="627.7" cy="122.6" r="1.7"/><circle cx="604.8" cy="131.4" r="1.7"/><circle cx="607.4" cy="136.6" r="1.7"/><circle cx="614.2" cy="140.2" r="1.7"/><circle cx="596.5" cy="140.8" r="1.7"/><circle cx="597.0" cy="146.5" r="1.7"/><circle cx="598.1" cy="149.6" r="1.7"/><circle cx="607.4" cy="152.7" r="1.7"/><circle cx="612.1" cy="151.1" r="1.7"/><circle cx="637.6" cy="152.7" r="1.7"/><circle cx="507.3" cy="80.6" r="1.7"/><circle cx="531.7" cy="81.1" r="1.7"/><circle cx="539.7" cy="78.1" r="1.7"/><circle cx="496.3" cy="89.1" r="1.7"/><circle cx="500.5" cy="91.6" r="1.7"/><circle cx="506.4" cy="89.1" r="1.7"/><circle cx="510.6" cy="91.6" r="1.7"/><circle cx="514.4" cy="85.7" r="1.7"/><circle cx="516.1" cy="88.2" r="1.7"/><circle cx="517.0" cy="91.2" r="1.7"/><circle cx="521.2" cy="86.1" r="1.7"/><circle cx="522.4" cy="88.6" r="1.7"/><circle cx="527.1" cy="90.3" r="1.7"/><circle cx="529.2" cy="87.8" r="1.7"/><circle cx="531.3" cy="90.3" r="1.7"/><circle cx="535.5" cy="89.9" r="1.7"/><circle cx="538.9" cy="89.1" r="1.7"/><circle cx="541.4" cy="87.4" r="1.7"/><circle cx="543.9" cy="89.9" r="1.7"/><circle cx="546.4" cy="84.8" r="1.7"/><circle cx="548.1" cy="88.2" r="1.7"/><circle cx="540.5" cy="91.2" r="1.7"/><circle cx="550.5" cy="68.8" r="1.7"/><circle cx="576.6" cy="68.8" r="1.7"/><circle cx="563.1" cy="74.7" r="1.7"/><circle cx="567.3" cy="76.8" r="1.7"/><circle cx="574.5" cy="77.3" r="1.7"/><circle cx="551.7" cy="81.9" r="1.7"/><circle cx="560.2" cy="83.6" r="1.7"/><circle cx="568.6" cy="79.0" r="1.7"/><circle cx="554.3" cy="87.4" r="1.7"/><circle cx="557.6" cy="86.1" r="1.7"/><circle cx="558.5" cy="89.1" r="1.7"/><circle cx="566.5" cy="86.1" r="1.7"/><circle cx="570.3" cy="84.4" r="1.7"/><circle cx="572.0" cy="87.4" r="1.7"/><circle cx="569.4" cy="89.1" r="1.7"/><circle cx="579.5" cy="90.3" r="1.7"/><circle cx="584.6" cy="86.1" r="1.7"/><circle cx="590.9" cy="86.1" r="1.7"/><circle cx="546.7" cy="91.6" r="1.7"/><circle cx="676.3" cy="284.6" r="1.7"/><circle cx="650.3" cy="260.7" r="1.7"/><circle cx="601.9" cy="205.0" r="1.7"/><circle cx="606.5" cy="249.9" r="1.7"/><circle cx="596.3" cy="247.5" r="1.7"/><circle cx="599.7" cy="258.0" r="1.7"/><circle cx="591.2" cy="233.0" r="1.7"/><circle cx="575.7" cy="202.1" r="1.7"/><circle cx="582.6" cy="222.5" r="1.7"/><circle cx="580.0" cy="225.4" r="1.7"/><circle cx="576.6" cy="242.2" r="1.7"/><circle cx="588.3" cy="185.6" r="1.7"/><circle cx="554.8" cy="216.8" r="1.7"/><circle cx="551.0" cy="218.5" r="1.7"/><circle cx="549.3" cy="231.8" r="1.7"/><circle cx="549.3" cy="247.8" r="1.7"/><circle cx="548.4" cy="265.9" r="1.7"/><circle cx="550.1" cy="311.9" r="1.7"/><circle cx="506.2" cy="134.3" r="1.7"/><circle cx="528.9" cy="94.9" r="1.7"/><circle cx="507.1" cy="170.3" r="1.7"/><circle cx="503.4" cy="103.4" r="1.7"/><circle cx="545.5" cy="144.6" r="1.7"/><circle cx="517.7" cy="135.4" r="1.7"/><circle cx="531.8" cy="115.6" r="1.7"/><circle cx="506.6" cy="158.5" r="1.7"/><circle cx="532.2" cy="135.4" r="1.7"/><circle cx="539.2" cy="138.5" r="1.7"/><circle cx="547.1" cy="109.6" r="1.7"/><circle cx="526.6" cy="133.0" r="1.7"/><circle cx="517.0" cy="142.1" r="1.7"/><circle cx="511.3" cy="159.7" r="1.7"/><circle cx="541.6" cy="103.3" r="1.7"/><circle cx="522.4" cy="115.7" r="1.7"/><circle cx="504.0" cy="167.6" r="1.7"/><circle cx="520.6" cy="104.9" r="1.7"/><circle cx="532.3" cy="109.4" r="1.7"/><circle cx="543.3" cy="110.7" r="1.7"/><circle cx="501.6" cy="109.3" r="1.7"/><circle cx="516.6" cy="131.8" r="1.7"/><circle cx="543.5" cy="150.9" r="1.7"/><circle cx="516.3" cy="93.9" r="1.7"/><circle cx="507.7" cy="176.0" r="1.7"/><circle cx="522.1" cy="150.4" r="1.7"/><circle cx="502.6" cy="95.4" r="1.7"/><circle cx="540.6" cy="141.8" r="1.7"/><circle cx="514.8" cy="119.1" r="1.7"/><circle cx="504.3" cy="107.0" r="1.7"/><circle cx="501.2" cy="162.8" r="1.7"/><circle cx="522.4" cy="103.2" r="1.7"/><circle cx="535.5" cy="108.9" r="1.7"/><circle cx="503.0" cy="142.6" r="1.7"/><circle cx="543.0" cy="94.8" r="1.7"/><circle cx="538.6" cy="108.4" r="1.7"/><circle cx="504.5" cy="94.0" r="1.7"/><circle cx="514.1" cy="153.4" r="1.7"/><circle cx="523.7" cy="164.0" r="1.7"/><circle cx="510.4" cy="118.9" r="1.7"/><circle cx="512.4" cy="174.5" r="1.7"/><circle cx="545.2" cy="121.0" r="1.7"/><circle cx="520.9" cy="118.8" r="1.7"/><circle cx="535.8" cy="95.9" r="1.7"/><circle cx="503.2" cy="126.4" r="1.7"/><circle cx="511.8" cy="163.3" r="1.7"/><circle cx="535.6" cy="138.2" r="1.7"/><circle cx="531.8" cy="150.5" r="1.7"/><circle cx="537.5" cy="170.2" r="1.7"/><circle cx="507.2" cy="145.0" r="1.7"/><circle cx="506.9" cy="129.6" r="1.7"/><circle cx="537.7" cy="167.5" r="1.7"/><circle cx="536.4" cy="95.5" r="1.7"/><circle cx="517.3" cy="106.2" r="1.7"/><circle cx="547.9" cy="104.6" r="1.7"/><circle cx="511.7" cy="122.4" r="1.7"/><circle cx="502.9" cy="165.4" r="1.7"/><circle cx="530.5" cy="105.9" r="1.7"/><circle cx="523.9" cy="99.1" r="1.7"/><circle cx="529.3" cy="111.9" r="1.7"/><circle cx="501.9" cy="102.2" r="1.7"/><circle cx="526.7" cy="145.9" r="1.7"/><circle cx="515.6" cy="146.4" r="1.7"/><circle cx="516.9" cy="103.4" r="1.7"/><circle cx="515.1" cy="125.6" r="1.7"/><circle cx="543.8" cy="102.2" r="1.7"/><circle cx="504.1" cy="139.6" r="1.7"/><circle cx="546.2" cy="168.5" r="1.7"/><circle cx="533.6" cy="98.1" r="1.7"/><circle cx="538.7" cy="149.8" r="1.7"/><circle cx="506.9" cy="131.5" r="1.7"/><circle cx="502.4" cy="159.7" r="1.7"/><circle cx="534.5" cy="159.9" r="1.7"/><circle cx="536.5" cy="114.9" r="1.7"/><circle cx="537.9" cy="113.4" r="1.7"/><circle cx="506.6" cy="125.2" r="1.7"/><circle cx="523.9" cy="116.5" r="1.7"/><circle cx="529.1" cy="143.0" r="1.7"/><circle cx="511.5" cy="144.7" r="1.7"/><circle cx="517.1" cy="154.1" r="1.7"/><circle cx="513.9" cy="159.4" r="1.7"/><circle cx="519.9" cy="138.9" r="1.7"/><circle cx="532.3" cy="135.9" r="1.7"/><circle cx="512.4" cy="174.6" r="1.7"/><circle cx="504.6" cy="119.7" r="1.7"/><circle cx="526.4" cy="94.9" r="1.7"/><circle cx="507.4" cy="159.5" r="1.7"/><circle cx="537.6" cy="145.9" r="1.7"/><circle cx="543.3" cy="155.8" r="1.7"/><circle cx="514.3" cy="146.5" r="1.7"/><circle cx="516.3" cy="155.3" r="1.7"/><circle cx="518.5" cy="105.3" r="1.7"/><circle cx="542.1" cy="150.4" r="1.7"/><circle cx="535.7" cy="139.4" r="1.7"/><circle cx="537.6" cy="130.0" r="1.7"/><circle cx="527.2" cy="97.7" r="1.7"/><circle cx="526.6" cy="160.8" r="1.7"/><circle cx="533.9" cy="159.8" r="1.7"/><circle cx="523.8" cy="166.4" r="1.7"/><circle cx="505.2" cy="165.9" r="1.7"/><circle cx="517.8" cy="100.1" r="1.7"/><circle cx="529.7" cy="130.6" r="1.7"/><circle cx="520.6" cy="163.9" r="1.7"/><circle cx="506.6" cy="144.2" r="1.7"/><circle cx="519.9" cy="136.8" r="1.7"/><circle cx="524.0" cy="103.7" r="1.7"/><circle cx="524.6" cy="164.7" r="1.7"/><circle cx="508.2" cy="93.5" r="1.7"/><circle cx="503.2" cy="131.0" r="1.7"/><circle cx="546.8" cy="96.2" r="1.7"/><circle cx="547.6" cy="137.4" r="1.7"/><circle cx="505.8" cy="127.6" r="1.7"/><circle cx="510.0" cy="152.3" r="1.7"/><circle cx="526.0" cy="116.6" r="1.7"/><circle cx="512.3" cy="165.2" r="1.7"/><circle cx="536.8" cy="129.1" r="1.7"/><circle cx="519.5" cy="154.3" r="1.7"/><circle cx="546.6" cy="99.2" r="1.7"/><circle cx="507.6" cy="122.9" r="1.7"/><circle cx="524.4" cy="98.5" r="1.7"/><circle cx="502.6" cy="110.9" r="1.7"/><circle cx="518.5" cy="154.5" r="1.7"/><circle cx="529.3" cy="94.9" r="1.7"/><circle cx="502.2" cy="130.4" r="1.7"/><circle cx="542.0" cy="169.2" r="1.7"/><circle cx="517.5" cy="166.9" r="1.7"/><circle cx="544.6" cy="126.6" r="1.7"/><circle cx="535.8" cy="123.1" r="1.7"/><circle cx="507.4" cy="140.7" r="1.7"/><circle cx="504.1" cy="148.1" r="1.7"/><circle cx="538.8" cy="169.2" r="1.7"/><circle cx="521.5" cy="102.3" r="1.7"/><circle cx="543.3" cy="165.4" r="1.7"/><circle cx="546.4" cy="142.3" r="1.7"/><circle cx="532.3" cy="123.8" r="1.7"/><circle cx="508.8" cy="116.9" r="1.7"/><circle cx="534.6" cy="119.7" r="1.7"/><circle cx="533.2" cy="134.6" r="1.7"/><circle cx="521.6" cy="173.6" r="1.7"/><circle cx="508.0" cy="133.3" r="1.7"/><circle cx="507.7" cy="171.1" r="1.7"/><circle cx="523.5" cy="120.3" r="1.7"/><circle cx="508.1" cy="142.3" r="1.7"/><circle cx="519.2" cy="103.2" r="1.7"/><circle cx="501.6" cy="125.3" r="1.7"/><circle cx="528.0" cy="136.0" r="1.7"/><circle cx="543.2" cy="168.9" r="1.7"/><circle cx="544.9" cy="159.5" r="1.7"/><circle cx="522.9" cy="136.4" r="1.7"/><circle cx="519.1" cy="126.0" r="1.7"/><circle cx="502.0" cy="159.4" r="1.7"/><circle cx="511.8" cy="95.0" r="1.7"/><circle cx="522.4" cy="152.7" r="1.7"/><circle cx="520.9" cy="123.0" r="1.7"/><circle cx="531.6" cy="106.1" r="1.7"/><circle cx="500.5" cy="142.1" r="1.7"/><circle cx="525.5" cy="165.1" r="1.7"/><circle cx="520.0" cy="158.4" r="1.7"/><circle cx="500.9" cy="94.8" r="1.7"/><circle cx="528.7" cy="111.5" r="1.7"/><circle cx="503.2" cy="103.2" r="1.7"/><circle cx="518.0" cy="120.8" r="1.7"/><circle cx="527.1" cy="166.9" r="1.7"/><circle cx="517.6" cy="107.9" r="1.7"/><circle cx="527.7" cy="92.7" r="1.7"/><circle cx="518.5" cy="119.1" r="1.7"/><circle cx="518.6" cy="96.8" r="1.7"/><circle cx="526.6" cy="144.8" r="1.7"/><circle cx="536.0" cy="172.7" r="1.7"/><circle cx="517.0" cy="147.5" r="1.7"/><circle cx="521.2" cy="110.5" r="1.7"/><circle cx="542.7" cy="155.0" r="1.7"/><circle cx="545.3" cy="161.3" r="1.7"/><circle cx="544.0" cy="103.2" r="1.7"/><circle cx="500.8" cy="109.1" r="1.7"/><circle cx="519.8" cy="150.1" r="1.7"/><circle cx="521.0" cy="135.5" r="1.7"/><circle cx="536.5" cy="98.4" r="1.7"/><circle cx="532.6" cy="96.6" r="1.7"/><circle cx="511.9" cy="153.0" r="1.7"/><circle cx="532.8" cy="126.5" r="1.7"/><circle cx="514.1" cy="161.9" r="1.7"/><circle cx="513.2" cy="95.1" r="1.7"/><circle cx="511.9" cy="94.3" r="1.7"/><circle cx="538.9" cy="102.7" r="1.7"/><circle cx="546.8" cy="110.3" r="1.7"/><circle cx="514.7" cy="141.5" r="1.7"/><circle cx="514.8" cy="124.3" r="1.7"/><circle cx="505.0" cy="125.1" r="1.7"/><circle cx="501.2" cy="111.3" r="1.7"/><circle cx="543.7" cy="116.0" r="1.7"/><circle cx="513.0" cy="149.4" r="1.7"/><circle cx="542.4" cy="117.3" r="1.7"/><circle cx="518.1" cy="152.4" r="1.7"/><circle cx="538.0" cy="143.9" r="1.7"/><circle cx="508.6" cy="107.6" r="1.7"/><circle cx="536.4" cy="151.7" r="1.7"/><circle cx="543.0" cy="157.8" r="1.7"/><circle cx="520.2" cy="103.7" r="1.7"/><circle cx="542.7" cy="150.8" r="1.7"/><circle cx="527.7" cy="149.6" r="1.7"/><circle cx="518.5" cy="121.3" r="1.7"/><circle cx="527.6" cy="133.0" r="1.7"/><circle cx="534.0" cy="170.9" r="1.7"/><circle cx="540.7" cy="125.0" r="1.7"/><circle cx="517.9" cy="170.2" r="1.7"/><circle cx="518.9" cy="159.6" r="1.7"/><circle cx="504.5" cy="130.3" r="1.7"/><circle cx="524.8" cy="160.3" r="1.7"/><circle cx="542.1" cy="105.3" r="1.7"/><circle cx="529.6" cy="145.2" r="1.7"/><circle cx="507.3" cy="162.4" r="1.7"/><circle cx="526.6" cy="173.1" r="1.7"/><circle cx="508.9" cy="136.5" r="1.7"/><circle cx="515.5" cy="146.3" r="1.7"/><circle cx="529.2" cy="135.4" r="1.7"/><circle cx="515.6" cy="134.7" r="1.7"/><circle cx="517.9" cy="167.1" r="1.7"/><circle cx="522.2" cy="132.3" r="1.7"/><circle cx="512.4" cy="113.8" r="1.7"/><circle cx="545.8" cy="118.8" r="1.7"/><circle cx="541.7" cy="142.3" r="1.7"/><circle cx="547.1" cy="106.2" r="1.7"/><circle cx="545.2" cy="157.2" r="1.7"/><circle cx="527.3" cy="151.9" r="1.7"/><circle cx="534.7" cy="130.1" r="1.7"/><circle cx="530.5" cy="111.7" r="1.7"/><circle cx="501.0" cy="149.2" r="1.7"/><circle cx="522.8" cy="168.4" r="1.7"/><circle cx="512.7" cy="161.0" r="1.7"/><circle cx="547.3" cy="167.8" r="1.7"/><circle cx="546.3" cy="105.8" r="1.7"/><circle cx="507.9" cy="111.6" r="1.7"/><circle cx="517.4" cy="102.2" r="1.7"/><circle cx="507.2" cy="94.0" r="1.7"/><circle cx="544.8" cy="122.8" r="1.7"/><circle cx="530.0" cy="130.6" r="1.7"/><circle cx="535.7" cy="160.1" r="1.7"/><circle cx="518.4" cy="137.4" r="1.7"/><circle cx="504.7" cy="116.4" r="1.7"/><circle cx="510.7" cy="118.4" r="1.7"/><circle cx="515.6" cy="140.7" r="1.7"/><circle cx="516.0" cy="119.9" r="1.7"/><circle cx="539.9" cy="93.5" r="1.7"/><circle cx="500.3" cy="97.3" r="1.7"/><circle cx="541.5" cy="145.6" r="1.7"/><circle cx="534.9" cy="172.8" r="1.7"/><circle cx="510.5" cy="169.6" r="1.7"/><circle cx="511.6" cy="136.0" r="1.7"/><circle cx="532.7" cy="159.3" r="1.7"/><circle cx="511.9" cy="132.5" r="1.7"/><circle cx="502.2" cy="116.6" r="1.7"/><circle cx="547.1" cy="168.3" r="1.7"/><circle cx="527.9" cy="158.4" r="1.7"/><circle cx="543.3" cy="120.3" r="1.7"/><circle cx="547.1" cy="130.1" r="1.7"/><circle cx="507.6" cy="136.9" r="1.7"/><circle cx="528.5" cy="150.6" r="1.7"/><circle cx="532.2" cy="96.0" r="1.7"/><circle cx="530.7" cy="169.7" r="1.7"/><circle cx="532.2" cy="174.2" r="1.7"/><circle cx="524.6" cy="160.4" r="1.7"/><circle cx="506.7" cy="167.5" r="1.7"/><circle cx="520.9" cy="166.0" r="1.7"/><circle cx="515.4" cy="144.8" r="1.7"/><circle cx="540.6" cy="152.1" r="1.7"/><circle cx="529.8" cy="173.8" r="1.7"/><circle cx="504.2" cy="101.0" r="1.7"/><circle cx="526.5" cy="172.5" r="1.7"/><circle cx="533.0" cy="118.4" r="1.7"/><circle cx="505.2" cy="130.1" r="1.7"/><circle cx="523.1" cy="131.7" r="1.7"/><circle cx="529.7" cy="115.4" r="1.7"/><circle cx="542.3" cy="116.7" r="1.7"/><circle cx="505.1" cy="121.7" r="1.7"/><circle cx="544.9" cy="105.9" r="1.7"/><circle cx="513.3" cy="170.1" r="1.7"/><circle cx="516.7" cy="163.2" r="1.7"/><circle cx="502.2" cy="167.0" r="1.7"/><circle cx="511.4" cy="107.6" r="1.7"/><circle cx="535.6" cy="175.4" r="1.7"/><circle cx="546.0" cy="155.5" r="1.7"/><circle cx="543.9" cy="175.2" r="1.7"/><circle cx="526.5" cy="104.6" r="1.7"/><circle cx="540.8" cy="125.7" r="1.7"/><circle cx="515.0" cy="134.5" r="1.7"/><circle cx="501.7" cy="94.1" r="1.7"/><circle cx="512.7" cy="142.4" r="1.7"/><circle cx="536.0" cy="172.7" r="1.7"/><circle cx="539.3" cy="171.4" r="1.7"/><circle cx="530.5" cy="154.0" r="1.7"/><circle cx="528.2" cy="99.3" r="1.7"/><circle cx="503.0" cy="156.2" r="1.7"/><circle cx="509.7" cy="158.7" r="1.7"/><circle cx="522.3" cy="93.1" r="1.7"/><circle cx="527.0" cy="129.6" r="1.7"/><circle cx="503.5" cy="114.4" r="1.7"/><circle cx="514.7" cy="121.5" r="1.7"/><circle cx="533.9" cy="106.5" r="1.7"/><circle cx="521.3" cy="143.4" r="1.7"/><circle cx="545.4" cy="102.1" r="1.7"/><circle cx="503.8" cy="108.6" r="1.7"/><circle cx="510.6" cy="106.1" r="1.7"/><circle cx="503.6" cy="110.1" r="1.7"/><circle cx="510.7" cy="132.7" r="1.7"/><circle cx="531.1" cy="123.0" r="1.7"/><circle cx="508.1" cy="100.4" r="1.7"/><circle cx="512.6" cy="106.8" r="1.7"/><circle cx="523.1" cy="165.5" r="1.7"/><circle cx="534.4" cy="109.5" r="1.7"/><circle cx="501.7" cy="98.2" r="1.7"/><circle cx="520.9" cy="123.0" r="1.7"/><circle cx="532.8" cy="99.5" r="1.7"/><circle cx="512.2" cy="150.0" r="1.7"/><circle cx="527.3" cy="135.8" r="1.7"/><circle cx="543.3" cy="102.0" r="1.7"/><circle cx="509.4" cy="139.9" r="1.7"/><circle cx="527.1" cy="174.6" r="1.7"/><circle cx="546.9" cy="141.7" r="1.7"/><circle cx="536.4" cy="150.9" r="1.7"/><circle cx="506.4" cy="143.0" r="1.7"/><circle cx="514.7" cy="122.6" r="1.7"/><circle cx="507.5" cy="93.2" r="1.7"/><circle cx="541.0" cy="152.6" r="1.7"/><circle cx="536.1" cy="116.6" r="1.7"/><circle cx="520.0" cy="107.3" r="1.7"/><circle cx="528.9" cy="162.8" r="1.7"/><circle cx="537.4" cy="170.8" r="1.7"/><circle cx="512.5" cy="151.3" r="1.7"/><circle cx="506.1" cy="137.4" r="1.7"/><circle cx="505.3" cy="137.8" r="1.7"/><circle cx="526.0" cy="121.6" r="1.7"/><circle cx="516.8" cy="152.1" r="1.7"/><circle cx="523.1" cy="126.7" r="1.7"/><circle cx="505.4" cy="116.2" r="1.7"/><circle cx="540.7" cy="174.0" r="1.7"/><circle cx="517.9" cy="165.5" r="1.7"/><circle cx="541.9" cy="110.8" r="1.7"/><circle cx="513.1" cy="150.8" r="1.7"/><circle cx="514.7" cy="172.6" r="1.7"/><circle cx="517.5" cy="153.7" r="1.7"/><circle cx="534.0" cy="110.4" r="1.7"/><circle cx="541.6" cy="120.0" r="1.7"/><circle cx="505.3" cy="96.7" r="1.7"/><circle cx="521.7" cy="145.5" r="1.7"/><circle cx="513.0" cy="163.1" r="1.7"/><circle cx="512.8" cy="163.5" r="1.7"/><circle cx="501.6" cy="114.5" r="1.7"/><circle cx="507.7" cy="130.0" r="1.7"/><circle cx="516.8" cy="125.6" r="1.7"/><circle cx="540.9" cy="141.1" r="1.7"/><circle cx="529.1" cy="125.2" r="1.7"/><circle cx="538.8" cy="134.5" r="1.7"/><circle cx="535.8" cy="169.1" r="1.7"/><circle cx="529.4" cy="129.0" r="1.7"/><circle cx="512.7" cy="168.9" r="1.7"/><circle cx="536.7" cy="159.5" r="1.7"/><circle cx="510.6" cy="129.1" r="1.7"/><circle cx="542.4" cy="113.1" r="1.7"/><circle cx="539.1" cy="137.6" r="1.7"/><circle cx="510.5" cy="124.0" r="1.7"/><circle cx="503.7" cy="148.9" r="1.7"/><circle cx="534.9" cy="94.9" r="1.7"/><circle cx="514.5" cy="156.9" r="1.7"/><circle cx="509.6" cy="137.5" r="1.7"/><circle cx="538.7" cy="140.3" r="1.7"/><circle cx="505.9" cy="168.7" r="1.7"/><circle cx="535.8" cy="139.8" r="1.7"/><circle cx="516.0" cy="141.3" r="1.7"/><circle cx="518.8" cy="102.4" r="1.7"/><circle cx="505.9" cy="96.3" r="1.7"/><circle cx="508.2" cy="113.1" r="1.7"/><circle cx="530.5" cy="141.1" r="1.7"/><circle cx="528.3" cy="161.4" r="1.7"/><circle cx="504.6" cy="125.1" r="1.7"/><circle cx="503.8" cy="127.6" r="1.7"/><circle cx="503.8" cy="98.1" r="1.7"/><circle cx="505.0" cy="125.2" r="1.7"/><circle cx="536.6" cy="116.1" r="1.7"/><circle cx="535.6" cy="112.0" r="1.7"/><circle cx="513.8" cy="132.0" r="1.7"/><circle cx="503.6" cy="130.1" r="1.7"/><circle cx="528.0" cy="161.6" r="1.7"/><circle cx="502.7" cy="159.5" r="1.7"/><circle cx="527.3" cy="141.0" r="1.7"/><circle cx="502.5" cy="166.2" r="1.7"/><circle cx="513.3" cy="138.3" r="1.7"/><circle cx="525.9" cy="168.8" r="1.7"/><circle cx="528.9" cy="175.6" r="1.7"/><circle cx="511.1" cy="148.0" r="1.7"/><circle cx="527.7" cy="135.5" r="1.7"/><circle cx="530.1" cy="138.6" r="1.7"/><circle cx="516.2" cy="146.3" r="1.7"/><circle cx="504.0" cy="132.6" r="1.7"/><circle cx="521.7" cy="110.4" r="1.7"/><circle cx="527.3" cy="148.6" r="1.7"/><circle cx="506.0" cy="117.4" r="1.7"/><circle cx="503.0" cy="142.5" r="1.7"/><circle cx="503.9" cy="111.7" r="1.7"/><circle cx="521.5" cy="130.4" r="1.7"/><circle cx="501.6" cy="171.9" r="1.7"/><circle cx="511.0" cy="143.6" r="1.7"/><circle cx="510.7" cy="142.4" r="1.7"/><circle cx="516.9" cy="119.2" r="1.7"/><circle cx="522.8" cy="141.6" r="1.7"/><circle cx="528.7" cy="150.2" r="1.7"/><circle cx="512.9" cy="100.2" r="1.7"/><circle cx="512.2" cy="119.9" r="1.7"/><circle cx="529.2" cy="127.2" r="1.7"/><circle cx="514.9" cy="100.7" r="1.7"/><circle cx="528.6" cy="101.7" r="1.7"/><circle cx="524.8" cy="150.2" r="1.7"/><circle cx="529.9" cy="105.9" r="1.7"/><circle cx="517.1" cy="171.4" r="1.7"/><circle cx="504.4" cy="149.4" r="1.7"/><circle cx="520.9" cy="143.9" r="1.7"/><circle cx="518.9" cy="102.9" r="1.7"/><circle cx="527.0" cy="93.0" r="1.7"/><circle cx="541.5" cy="159.4" r="1.7"/><circle cx="517.9" cy="137.5" r="1.7"/><circle cx="525.3" cy="174.6" r="1.7"/><circle cx="502.1" cy="117.4" r="1.7"/><circle cx="519.5" cy="158.5" r="1.7"/><circle cx="535.0" cy="128.0" r="1.7"/><circle cx="500.6" cy="146.8" r="1.7"/><circle cx="519.5" cy="102.3" r="1.7"/><circle cx="530.3" cy="129.8" r="1.7"/><circle cx="514.7" cy="115.1" r="1.7"/><circle cx="525.0" cy="113.3" r="1.7"/><circle cx="518.9" cy="171.4" r="1.7"/><circle cx="522.9" cy="113.7" r="1.7"/><circle cx="525.0" cy="169.4" r="1.7"/><circle cx="541.6" cy="149.3" r="1.7"/><circle cx="543.2" cy="155.9" r="1.7"/><circle cx="532.6" cy="128.4" r="1.7"/><circle cx="507.2" cy="153.8" r="1.7"/><circle cx="530.4" cy="173.6" r="1.7"/><circle cx="515.4" cy="166.0" r="1.7"/><circle cx="510.5" cy="171.8" r="1.7"/><circle cx="547.8" cy="96.5" r="1.7"/><circle cx="515.6" cy="176.2" r="1.7"/><circle cx="546.5" cy="148.7" r="1.7"/><circle cx="506.5" cy="93.1" r="1.7"/><circle cx="512.0" cy="171.6" r="1.7"/><circle cx="538.6" cy="128.4" r="1.7"/><circle cx="536.5" cy="168.1" r="1.7"/><circle cx="514.4" cy="165.8" r="1.7"/><circle cx="512.9" cy="120.0" r="1.7"/><circle cx="502.1" cy="105.9" r="1.7"/><circle cx="526.4" cy="94.5" r="1.7"/><circle cx="526.2" cy="106.7" r="1.7"/><circle cx="535.9" cy="103.2" r="1.7"/><circle cx="509.9" cy="115.0" r="1.7"/><circle cx="528.0" cy="160.3" r="1.7"/><circle cx="536.2" cy="154.6" r="1.7"/><circle cx="532.7" cy="138.0" r="1.7"/><circle cx="516.4" cy="107.6" r="1.7"/><circle cx="541.5" cy="126.8" r="1.7"/><circle cx="531.2" cy="98.2" r="1.7"/><circle cx="517.3" cy="100.9" r="1.7"/><circle cx="517.0" cy="153.9" r="1.7"/><circle cx="516.4" cy="149.7" r="1.7"/><circle cx="505.9" cy="124.8" r="1.7"/><circle cx="519.7" cy="135.2" r="1.7"/><circle cx="511.0" cy="151.0" r="1.7"/><circle cx="542.4" cy="160.6" r="1.7"/><circle cx="501.5" cy="133.4" r="1.7"/><circle cx="516.5" cy="140.5" r="1.7"/><circle cx="504.0" cy="153.6" r="1.7"/><circle cx="520.0" cy="171.6" r="1.7"/><circle cx="500.9" cy="127.5" r="1.7"/><circle cx="523.4" cy="162.1" r="1.7"/><circle cx="536.3" cy="107.8" r="1.7"/><circle cx="514.8" cy="154.2" r="1.7"/><circle cx="520.1" cy="114.5" r="1.7"/><circle cx="544.7" cy="163.2" r="1.7"/><circle cx="517.1" cy="138.6" r="1.7"/><circle cx="544.6" cy="110.6" r="1.7"/><circle cx="543.6" cy="166.6" r="1.7"/><circle cx="534.9" cy="150.0" r="1.7"/><circle cx="532.9" cy="138.1" r="1.7"/><circle cx="527.9" cy="109.0" r="1.7"/><circle cx="527.0" cy="148.9" r="1.7"/><circle cx="523.3" cy="149.4" r="1.7"/><circle cx="522.0" cy="159.8" r="1.7"/><circle cx="534.6" cy="100.0" r="1.7"/><circle cx="536.9" cy="116.4" r="1.7"/><circle cx="503.9" cy="102.7" r="1.7"/><circle cx="515.6" cy="136.5" r="1.7"/><circle cx="515.8" cy="109.5" r="1.7"/><circle cx="536.9" cy="123.8" r="1.7"/><circle cx="541.9" cy="113.0" r="1.7"/><circle cx="533.1" cy="122.5" r="1.7"/><circle cx="540.8" cy="146.7" r="1.7"/><circle cx="532.6" cy="100.3" r="1.7"/><circle cx="536.1" cy="122.2" r="1.7"/><circle cx="535.5" cy="163.3" r="1.7"/><circle cx="505.9" cy="93.8" r="1.7"/><circle cx="536.4" cy="173.7" r="1.7"/><circle cx="543.2" cy="129.0" r="1.7"/><circle cx="540.0" cy="94.5" r="1.7"/><circle cx="502.8" cy="141.2" r="1.7"/><circle cx="525.3" cy="161.6" r="1.7"/><circle cx="511.2" cy="131.3" r="1.7"/><circle cx="547.5" cy="117.9" r="1.7"/><circle cx="519.4" cy="143.4" r="1.7"/><circle cx="547.8" cy="107.8" r="1.7"/><circle cx="533.2" cy="127.2" r="1.7"/><circle cx="519.2" cy="114.0" r="1.7"/><circle cx="522.3" cy="140.7" r="1.7"/><circle cx="518.8" cy="134.9" r="1.7"/><circle cx="530.5" cy="163.9" r="1.7"/><circle cx="526.9" cy="124.6" r="1.7"/><circle cx="546.2" cy="107.0" r="1.7"/><circle cx="502.2" cy="168.6" r="1.7"/><circle cx="512.8" cy="105.2" r="1.7"/><circle cx="518.5" cy="121.2" r="1.7"/><circle cx="517.0" cy="163.8" r="1.7"/><circle cx="513.9" cy="103.6" r="1.7"/><circle cx="510.4" cy="172.1" r="1.7"/><circle cx="520.6" cy="122.7" r="1.7"/><circle cx="537.3" cy="170.9" r="1.7"/><circle cx="524.5" cy="160.8" r="1.7"/><circle cx="494.1" cy="121.9" r="1.7"/><circle cx="496.6" cy="112.3" r="1.7"/><circle cx="494.2" cy="108.2" r="1.7"/><circle cx="494.1" cy="162.8" r="1.7"/><circle cx="498.4" cy="102.0" r="1.7"/><circle cx="494.8" cy="153.0" r="1.7"/><circle cx="498.9" cy="139.4" r="1.7"/><circle cx="497.8" cy="112.4" r="1.7"/><circle cx="498.3" cy="161.3" r="1.7"/><circle cx="495.3" cy="112.3" r="1.7"/><circle cx="492.3" cy="145.3" r="1.7"/><circle cx="497.1" cy="92.6" r="1.7"/><circle cx="496.2" cy="171.1" r="1.7"/><circle cx="492.2" cy="104.0" r="1.7"/><circle cx="492.5" cy="129.1" r="1.7"/><circle cx="495.1" cy="165.4" r="1.7"/><circle cx="492.5" cy="109.3" r="1.7"/><circle cx="499.5" cy="94.1" r="1.7"/><circle cx="494.1" cy="125.5" r="1.7"/><circle cx="492.0" cy="116.6" r="1.7"/><circle cx="496.8" cy="144.1" r="1.7"/><circle cx="496.9" cy="147.0" r="1.7"/><circle cx="496.9" cy="95.4" r="1.7"/><circle cx="497.2" cy="141.4" r="1.7"/><circle cx="493.7" cy="127.7" r="1.7"/><circle cx="493.9" cy="165.2" r="1.7"/><circle cx="494.2" cy="106.2" r="1.7"/><circle cx="498.4" cy="156.3" r="1.7"/><circle cx="498.8" cy="149.3" r="1.7"/><circle cx="495.3" cy="132.3" r="1.7"/><circle cx="496.4" cy="142.4" r="1.7"/><circle cx="499.6" cy="114.7" r="1.7"/><circle cx="498.1" cy="93.9" r="1.7"/><circle cx="493.5" cy="171.6" r="1.7"/><circle cx="494.0" cy="135.3" r="1.7"/><circle cx="499.3" cy="147.4" r="1.7"/><circle cx="495.9" cy="151.3" r="1.7"/><circle cx="499.8" cy="171.4" r="1.7"/><circle cx="493.5" cy="104.2" r="1.7"/><circle cx="494.3" cy="104.7" r="1.7"/><circle cx="584.7" cy="133.8" r="1.7"/><circle cx="554.8" cy="96.1" r="1.7"/><circle cx="563.5" cy="126.5" r="1.7"/><circle cx="585.0" cy="115.3" r="1.7"/><circle cx="578.7" cy="137.9" r="1.7"/><circle cx="590.3" cy="98.3" r="1.7"/><circle cx="582.2" cy="130.9" r="1.7"/><circle cx="591.5" cy="113.2" r="1.7"/><circle cx="555.5" cy="116.0" r="1.7"/><circle cx="565.8" cy="112.0" r="1.7"/><circle cx="586.5" cy="124.8" r="1.7"/><circle cx="580.6" cy="124.8" r="1.7"/><circle cx="554.8" cy="95.4" r="1.7"/><circle cx="567.0" cy="134.6" r="1.7"/><circle cx="579.1" cy="131.7" r="1.7"/><circle cx="577.9" cy="131.3" r="1.7"/><circle cx="595.8" cy="127.8" r="1.7"/><circle cx="589.4" cy="140.7" r="1.7"/><circle cx="583.5" cy="132.7" r="1.7"/><circle cx="551.8" cy="94.3" r="1.7"/><circle cx="592.3" cy="104.3" r="1.7"/><circle cx="562.7" cy="99.2" r="1.7"/><circle cx="578.5" cy="94.0" r="1.7"/><circle cx="586.4" cy="107.3" r="1.7"/><circle cx="583.7" cy="137.6" r="1.7"/><circle cx="581.1" cy="113.5" r="1.7"/><circle cx="578.0" cy="134.8" r="1.7"/><circle cx="582.1" cy="105.0" r="1.7"/><circle cx="548.4" cy="136.0" r="1.7"/><circle cx="577.9" cy="95.6" r="1.7"/><circle cx="574.4" cy="121.7" r="1.7"/><circle cx="562.1" cy="136.4" r="1.7"/><circle cx="559.5" cy="99.6" r="1.7"/><circle cx="562.8" cy="109.3" r="1.7"/><circle cx="590.4" cy="125.0" r="1.7"/><circle cx="553.9" cy="112.0" r="1.7"/><circle cx="552.9" cy="127.4" r="1.7"/><circle cx="589.0" cy="97.1" r="1.7"/><circle cx="572.0" cy="104.6" r="1.7"/><circle cx="561.7" cy="129.5" r="1.7"/><circle cx="594.9" cy="106.3" r="1.7"/><circle cx="574.0" cy="107.9" r="1.7"/><circle cx="551.0" cy="122.3" r="1.7"/><circle cx="555.5" cy="126.5" r="1.7"/><circle cx="583.9" cy="99.5" r="1.7"/><circle cx="576.6" cy="102.8" r="1.7"/><circle cx="584.6" cy="106.7" r="1.7"/><circle cx="581.1" cy="124.6" r="1.7"/><circle cx="575.6" cy="103.3" r="1.7"/><circle cx="588.0" cy="110.1" r="1.7"/><circle cx="585.0" cy="116.0" r="1.7"/><circle cx="569.5" cy="127.8" r="1.7"/><circle cx="564.4" cy="130.3" r="1.7"/><circle cx="569.4" cy="129.2" r="1.7"/><circle cx="581.5" cy="139.3" r="1.7"/><circle cx="567.6" cy="109.8" r="1.7"/><circle cx="595.8" cy="118.1" r="1.7"/><circle cx="568.1" cy="127.2" r="1.7"/><circle cx="560.0" cy="139.9" r="1.7"/><circle cx="584.2" cy="124.6" r="1.7"/><circle cx="562.0" cy="132.6" r="1.7"/><circle cx="592.1" cy="131.7" r="1.7"/><circle cx="591.8" cy="97.1" r="1.7"/><circle cx="583.6" cy="135.4" r="1.7"/><circle cx="570.9" cy="96.5" r="1.7"/><circle cx="574.0" cy="104.5" r="1.7"/><circle cx="549.6" cy="138.8" r="1.7"/><circle cx="588.0" cy="123.9" r="1.7"/><circle cx="583.9" cy="125.7" r="1.7"/><circle cx="570.2" cy="98.5" r="1.7"/><circle cx="561.9" cy="117.6" r="1.7"/><circle cx="575.9" cy="107.4" r="1.7"/><circle cx="554.1" cy="109.4" r="1.7"/><circle cx="556.9" cy="138.6" r="1.7"/><circle cx="558.6" cy="112.0" r="1.7"/><circle cx="574.0" cy="105.0" r="1.7"/><circle cx="571.8" cy="119.9" r="1.7"/><circle cx="550.4" cy="139.4" r="1.7"/><circle cx="573.8" cy="99.7" r="1.7"/><circle cx="595.2" cy="100.8" r="1.7"/><circle cx="582.9" cy="116.4" r="1.7"/><circle cx="560.4" cy="111.3" r="1.7"/><circle cx="571.1" cy="110.9" r="1.7"/><circle cx="559.9" cy="113.1" r="1.7"/><circle cx="568.9" cy="126.5" r="1.7"/><circle cx="557.5" cy="94.8" r="1.7"/><circle cx="588.0" cy="95.9" r="1.7"/><circle cx="578.3" cy="119.7" r="1.7"/><circle cx="594.8" cy="101.9" r="1.7"/><circle cx="590.6" cy="98.9" r="1.7"/><circle cx="556.2" cy="124.9" r="1.7"/><circle cx="556.0" cy="121.5" r="1.7"/><circle cx="580.4" cy="98.7" r="1.7"/><circle cx="585.9" cy="113.4" r="1.7"/><circle cx="594.4" cy="93.1" r="1.7"/><circle cx="551.8" cy="123.2" r="1.7"/><circle cx="560.3" cy="112.4" r="1.7"/><circle cx="591.6" cy="109.5" r="1.7"/><circle cx="550.5" cy="99.6" r="1.7"/><circle cx="574.7" cy="130.9" r="1.7"/><circle cx="584.4" cy="115.8" r="1.7"/><circle cx="559.5" cy="98.9" r="1.7"/><circle cx="558.7" cy="102.4" r="1.7"/><circle cx="591.6" cy="112.7" r="1.7"/><circle cx="553.6" cy="124.1" r="1.7"/><circle cx="569.9" cy="93.9" r="1.7"/><circle cx="595.0" cy="139.3" r="1.7"/><circle cx="560.6" cy="133.7" r="1.7"/><circle cx="569.8" cy="125.8" r="1.7"/><circle cx="579.4" cy="128.7" r="1.7"/><circle cx="569.1" cy="99.8" r="1.7"/><circle cx="586.6" cy="114.3" r="1.7"/><circle cx="569.2" cy="130.1" r="1.7"/><circle cx="580.9" cy="141.5" r="1.7"/><circle cx="566.6" cy="123.9" r="1.7"/><circle cx="552.0" cy="98.1" r="1.7"/><circle cx="560.2" cy="106.4" r="1.7"/><circle cx="569.4" cy="103.8" r="1.7"/><circle cx="592.9" cy="113.7" r="1.7"/><circle cx="566.4" cy="137.2" r="1.7"/><circle cx="586.2" cy="130.6" r="1.7"/><circle cx="591.9" cy="129.0" r="1.7"/><circle cx="562.7" cy="140.1" r="1.7"/><circle cx="549.3" cy="136.9" r="1.7"/><circle cx="568.1" cy="109.2" r="1.7"/><circle cx="570.8" cy="112.3" r="1.7"/><circle cx="589.3" cy="132.4" r="1.7"/><circle cx="583.8" cy="104.0" r="1.7"/><circle cx="569.1" cy="96.2" r="1.7"/><circle cx="583.6" cy="94.6" r="1.7"/><circle cx="567.0" cy="100.0" r="1.7"/><circle cx="588.9" cy="138.0" r="1.7"/><circle cx="561.9" cy="135.7" r="1.7"/><circle cx="556.5" cy="127.7" r="1.7"/><circle cx="560.0" cy="114.6" r="1.7"/><circle cx="577.3" cy="109.9" r="1.7"/><circle cx="557.5" cy="121.6" r="1.7"/><circle cx="586.1" cy="141.8" r="1.7"/><circle cx="563.5" cy="105.3" r="1.7"/><circle cx="551.7" cy="102.6" r="1.7"/><circle cx="549.2" cy="104.9" r="1.7"/><circle cx="582.8" cy="98.2" r="1.7"/><circle cx="579.0" cy="107.1" r="1.7"/><circle cx="559.0" cy="116.4" r="1.7"/><circle cx="568.9" cy="114.6" r="1.7"/><circle cx="553.6" cy="120.4" r="1.7"/><circle cx="591.3" cy="93.0" r="1.7"/><circle cx="551.9" cy="121.5" r="1.7"/><circle cx="563.3" cy="105.0" r="1.7"/><circle cx="595.4" cy="107.8" r="1.7"/><circle cx="592.2" cy="123.0" r="1.7"/><circle cx="549.5" cy="105.7" r="1.7"/><circle cx="551.6" cy="119.1" r="1.7"/><circle cx="591.6" cy="95.1" r="1.7"/><circle cx="549.3" cy="94.0" r="1.7"/><circle cx="561.1" cy="100.7" r="1.7"/><circle cx="594.5" cy="130.9" r="1.7"/><circle cx="593.1" cy="121.2" r="1.7"/><circle cx="587.4" cy="127.6" r="1.7"/><circle cx="562.0" cy="124.8" r="1.7"/><circle cx="561.9" cy="115.5" r="1.7"/><circle cx="587.5" cy="103.4" r="1.7"/><circle cx="556.4" cy="134.7" r="1.7"/><circle cx="570.2" cy="101.1" r="1.7"/><circle cx="563.3" cy="106.4" r="1.7"/><circle cx="591.0" cy="115.9" r="1.7"/><circle cx="592.2" cy="115.8" r="1.7"/><circle cx="593.1" cy="137.9" r="1.7"/><circle cx="575.2" cy="131.4" r="1.7"/><circle cx="561.8" cy="98.2" r="1.7"/><circle cx="577.0" cy="95.2" r="1.7"/><circle cx="570.4" cy="123.2" r="1.7"/><circle cx="584.8" cy="136.9" r="1.7"/><circle cx="557.8" cy="135.3" r="1.7"/><circle cx="571.8" cy="123.3" r="1.7"/><circle cx="570.2" cy="134.5" r="1.7"/><circle cx="562.4" cy="92.9" r="1.7"/><circle cx="587.8" cy="125.3" r="1.7"/><circle cx="582.4" cy="98.6" r="1.7"/><circle cx="557.9" cy="123.5" r="1.7"/><circle cx="583.9" cy="125.2" r="1.7"/><circle cx="576.6" cy="124.9" r="1.7"/><circle cx="555.1" cy="114.8" r="1.7"/><circle cx="563.8" cy="128.9" r="1.7"/><circle cx="572.8" cy="128.1" r="1.7"/><circle cx="581.4" cy="137.3" r="1.7"/><circle cx="589.1" cy="95.1" r="1.7"/><circle cx="580.1" cy="111.0" r="1.7"/><circle cx="552.8" cy="116.2" r="1.7"/><circle cx="588.5" cy="131.9" r="1.7"/><circle cx="553.1" cy="102.5" r="1.7"/><circle cx="581.4" cy="140.4" r="1.7"/><circle cx="551.7" cy="96.9" r="1.7"/><circle cx="581.4" cy="123.0" r="1.7"/><circle cx="586.9" cy="102.3" r="1.7"/><circle cx="571.7" cy="132.1" r="1.7"/><circle cx="566.4" cy="112.3" r="1.7"/><circle cx="549.6" cy="132.0" r="1.7"/><circle cx="569.4" cy="111.2" r="1.7"/><circle cx="579.5" cy="134.7" r="1.7"/><circle cx="589.6" cy="109.5" r="1.7"/><circle cx="577.2" cy="111.7" r="1.7"/><circle cx="588.3" cy="131.8" r="1.7"/><circle cx="579.8" cy="133.3" r="1.7"/><circle cx="572.5" cy="120.8" r="1.7"/><circle cx="555.8" cy="127.5" r="1.7"/><circle cx="561.8" cy="120.3" r="1.7"/><circle cx="548.1" cy="112.2" r="1.7"/><circle cx="577.6" cy="123.7" r="1.7"/><circle cx="575.1" cy="105.0" r="1.7"/><circle cx="579.4" cy="125.2" r="1.7"/><circle cx="576.3" cy="111.2" r="1.7"/><circle cx="555.3" cy="120.1" r="1.7"/><circle cx="550.5" cy="137.9" r="1.7"/><circle cx="564.9" cy="106.5" r="1.7"/><circle cx="569.6" cy="97.6" r="1.7"/><circle cx="590.4" cy="141.0" r="1.7"/><circle cx="587.5" cy="120.9" r="1.7"/><circle cx="593.2" cy="108.9" r="1.7"/><circle cx="570.3" cy="101.0" r="1.7"/><circle cx="568.4" cy="138.4" r="1.7"/><circle cx="579.8" cy="119.5" r="1.7"/><circle cx="573.7" cy="123.9" r="1.7"/><circle cx="577.3" cy="114.9" r="1.7"/><circle cx="572.5" cy="97.5" r="1.7"/><circle cx="569.3" cy="125.9" r="1.7"/><circle cx="558.7" cy="106.2" r="1.7"/><circle cx="586.6" cy="99.2" r="1.7"/><circle cx="557.4" cy="133.0" r="1.7"/><circle cx="553.8" cy="107.4" r="1.7"/><circle cx="591.7" cy="112.9" r="1.7"/><circle cx="587.2" cy="130.3" r="1.7"/><circle cx="549.0" cy="103.4" r="1.7"/><circle cx="591.8" cy="108.4" r="1.7"/><circle cx="567.4" cy="138.8" r="1.7"/><circle cx="553.3" cy="140.6" r="1.7"/><circle cx="579.0" cy="123.6" r="1.7"/><circle cx="548.0" cy="123.7" r="1.7"/><circle cx="587.5" cy="112.0" r="1.7"/><circle cx="551.5" cy="99.0" r="1.7"/><circle cx="551.7" cy="113.0" r="1.7"/><circle cx="587.2" cy="95.4" r="1.7"/><circle cx="567.5" cy="112.3" r="1.7"/><circle cx="567.1" cy="118.6" r="1.7"/><circle cx="573.7" cy="102.6" r="1.7"/><circle cx="586.1" cy="118.1" r="1.7"/><circle cx="564.9" cy="140.2" r="1.7"/><circle cx="581.9" cy="100.6" r="1.7"/><circle cx="594.5" cy="121.1" r="1.7"/><circle cx="564.3" cy="104.3" r="1.7"/><circle cx="551.3" cy="104.6" r="1.7"/><circle cx="561.9" cy="109.5" r="1.7"/><circle cx="595.4" cy="121.8" r="1.7"/><circle cx="557.2" cy="110.8" r="1.7"/><circle cx="568.8" cy="96.6" r="1.7"/><circle cx="570.5" cy="117.7" r="1.7"/><circle cx="591.7" cy="113.9" r="1.7"/><circle cx="581.1" cy="126.1" r="1.7"/><circle cx="556.4" cy="120.6" r="1.7"/><circle cx="569.6" cy="100.6" r="1.7"/><circle cx="549.1" cy="141.8" r="1.7"/><circle cx="552.3" cy="136.4" r="1.7"/><circle cx="565.6" cy="96.5" r="1.7"/><circle cx="594.3" cy="125.2" r="1.7"/><circle cx="567.4" cy="134.0" r="1.7"/><circle cx="582.0" cy="113.1" r="1.7"/><circle cx="582.5" cy="129.0" r="1.7"/><circle cx="556.3" cy="128.0" r="1.7"/><circle cx="592.0" cy="126.5" r="1.7"/><circle cx="586.4" cy="141.5" r="1.7"/><circle cx="586.2" cy="115.8" r="1.7"/><circle cx="575.0" cy="130.5" r="1.7"/><circle cx="578.4" cy="96.0" r="1.7"/><circle cx="550.9" cy="106.0" r="1.7"/><circle cx="587.3" cy="103.5" r="1.7"/><circle cx="563.3" cy="133.2" r="1.7"/><circle cx="554.2" cy="106.4" r="1.7"/><circle cx="560.3" cy="94.8" r="1.7"/><circle cx="583.6" cy="108.4" r="1.7"/><circle cx="567.6" cy="109.0" r="1.7"/><circle cx="551.2" cy="134.3" r="1.7"/><circle cx="554.5" cy="106.6" r="1.7"/><circle cx="582.6" cy="109.7" r="1.7"/><circle cx="572.3" cy="108.8" r="1.7"/><circle cx="574.9" cy="108.2" r="1.7"/><circle cx="569.9" cy="142.3" r="1.7"/><circle cx="548.7" cy="159.4" r="1.7"/><circle cx="587.2" cy="176.3" r="1.7"/><circle cx="586.6" cy="160.0" r="1.7"/><circle cx="578.9" cy="165.0" r="1.7"/><circle cx="583.0" cy="176.0" r="1.7"/><circle cx="564.5" cy="157.3" r="1.7"/><circle cx="585.4" cy="149.4" r="1.7"/><circle cx="552.6" cy="172.8" r="1.7"/><circle cx="548.8" cy="172.7" r="1.7"/><circle cx="591.9" cy="147.7" r="1.7"/><circle cx="584.2" cy="151.9" r="1.7"/><circle cx="561.0" cy="175.7" r="1.7"/><circle cx="590.6" cy="168.2" r="1.7"/><circle cx="568.9" cy="175.8" r="1.7"/><circle cx="575.4" cy="175.6" r="1.7"/><circle cx="582.6" cy="143.6" r="1.7"/><circle cx="586.3" cy="170.7" r="1.7"/><circle cx="590.3" cy="163.3" r="1.7"/><circle cx="549.8" cy="171.8" r="1.7"/><circle cx="568.3" cy="148.7" r="1.7"/><circle cx="558.0" cy="148.9" r="1.7"/><circle cx="587.2" cy="144.5" r="1.7"/><circle cx="592.1" cy="142.6" r="1.7"/><circle cx="582.7" cy="149.9" r="1.7"/><circle cx="572.7" cy="148.1" r="1.7"/><circle cx="591.2" cy="147.3" r="1.7"/><circle cx="570.4" cy="162.9" r="1.7"/><circle cx="569.8" cy="149.4" r="1.7"/><circle cx="561.9" cy="174.1" r="1.7"/><circle cx="554.0" cy="142.6" r="1.7"/><circle cx="591.6" cy="172.4" r="1.7"/><circle cx="580.9" cy="158.2" r="1.7"/><circle cx="593.7" cy="156.2" r="1.7"/><circle cx="548.6" cy="156.9" r="1.7"/><circle cx="573.4" cy="160.8" r="1.7"/><circle cx="590.6" cy="144.3" r="1.7"/><circle cx="589.0" cy="159.9" r="1.7"/><circle cx="583.1" cy="156.2" r="1.7"/><circle cx="562.2" cy="153.5" r="1.7"/><circle cx="561.2" cy="157.6" r="1.7"/><circle cx="576.7" cy="170.5" r="1.7"/><circle cx="556.4" cy="157.4" r="1.7"/><circle cx="573.5" cy="170.1" r="1.7"/><circle cx="582.1" cy="163.4" r="1.7"/><circle cx="580.4" cy="157.4" r="1.7"/><circle cx="586.7" cy="170.7" r="1.7"/><circle cx="575.2" cy="146.0" r="1.7"/><circle cx="568.5" cy="151.1" r="1.7"/><circle cx="557.2" cy="152.2" r="1.7"/><circle cx="587.3" cy="153.9" r="1.7"/><circle cx="568.6" cy="155.1" r="1.7"/><circle cx="556.9" cy="161.6" r="1.7"/><circle cx="568.0" cy="174.1" r="1.7"/><circle cx="577.7" cy="175.5" r="1.7"/><circle cx="589.2" cy="158.8" r="1.7"/><circle cx="548.8" cy="149.3" r="1.7"/><circle cx="553.7" cy="167.3" r="1.7"/></g>
<rect x="438.4" y="92.80" width="293.70" height="83.29" fill="#ff8080" fill-opacity="0.52" stroke="#ff8080" stroke-opacity="0.52" stroke-width="1"/>
<line x1="438.4" y1="106.23" x2="732.1" y2="106.23" stroke="#000" stroke-opacity="0.55" stroke-width="2.5"/>
<line x1="438.4" y1="134.55" x2="732.1" y2="134.55" stroke="#b22222" stroke-width="5"/>
<g stroke="#000080" stroke-width="2.1" fill="none"><line x1="481.0" y1="127.5" x2="481.0" y2="224.1"/><line x1="478.7" y1="127.5" x2="483.3" y2="127.5"/><line x1="478.7" y1="224.1" x2="483.3" y2="224.1"/><line x1="492.8" y1="129.4" x2="492.8" y2="206.9"/><line x1="490.5" y1="129.4" x2="495.1" y2="129.4"/><line x1="490.5" y1="206.9" x2="495.1" y2="206.9"/><line x1="504.7" y1="114.5" x2="504.7" y2="193.3"/><line x1="502.4" y1="114.5" x2="507.0" y2="114.5"/><line x1="502.4" y1="193.3" x2="507.0" y2="193.3"/><line x1="516.5" y1="112.9" x2="516.5" y2="182.3"/><line x1="514.2" y1="112.9" x2="518.8" y2="112.9"/><line x1="514.2" y1="182.3" x2="518.8" y2="182.3"/><line x1="528.6" y1="103.3" x2="528.6" y2="168.3"/><line x1="526.3000000000001" y1="103.3" x2="530.9" y2="103.3"/><line x1="526.3000000000001" y1="168.3" x2="530.9" y2="168.3"/><line x1="540.6" y1="98.6" x2="540.6" y2="159.3"/><line x1="538.3000000000001" y1="98.6" x2="542.9" y2="98.6"/><line x1="538.3000000000001" y1="159.3" x2="542.9" y2="159.3"/><line x1="552.2" y1="85.4" x2="552.2" y2="143.1"/><line x1="549.9000000000001" y1="85.4" x2="554.5" y2="85.4"/><line x1="549.9000000000001" y1="143.1" x2="554.5" y2="143.1"/><line x1="564.2" y1="85.2" x2="564.2" y2="138.2"/><line x1="561.9000000000001" y1="85.2" x2="566.5" y2="85.2"/><line x1="561.9000000000001" y1="138.2" x2="566.5" y2="138.2"/><line x1="575.9" y1="85.7" x2="575.9" y2="131.8"/><line x1="573.6" y1="85.7" x2="578.1999999999999" y2="85.7"/><line x1="573.6" y1="131.8" x2="578.1999999999999" y2="131.8"/><line x1="587.8" y1="89.0" x2="587.8" y2="133.0"/><line x1="585.5" y1="89.0" x2="590.0999999999999" y2="89.0"/><line x1="585.5" y1="133.0" x2="590.0999999999999" y2="133.0"/><line x1="599.9" y1="89.3" x2="599.9" y2="121.3"/><line x1="597.6" y1="89.3" x2="602.1999999999999" y2="89.3"/><line x1="597.6" y1="121.3" x2="602.1999999999999" y2="121.3"/><line x1="611.5" y1="86.0" x2="611.5" y2="141.4"/><line x1="609.2" y1="86.0" x2="613.8" y2="86.0"/><line x1="609.2" y1="141.4" x2="613.8" y2="141.4"/><line x1="623.3" y1="98.4" x2="623.3" y2="129.8"/><line x1="621.0" y1="98.4" x2="625.5999999999999" y2="98.4"/><line x1="621.0" y1="129.8" x2="625.5999999999999" y2="129.8"/><line x1="635.5" y1="94.4" x2="635.5" y2="150.4"/><line x1="633.2" y1="94.4" x2="637.8" y2="94.4"/><line x1="633.2" y1="150.4" x2="637.8" y2="150.4"/><line x1="647.5" y1="132.3" x2="647.5" y2="188.8"/><line x1="645.2" y1="132.3" x2="649.8" y2="132.3"/><line x1="645.2" y1="188.8" x2="649.8" y2="188.8"/></g><g fill="#1e90ff" stroke="#000080" stroke-width="2.5"><polygon points="481.00,171.75 477.67,173.67 477.67,177.53 481.00,179.45 484.33,177.53 484.33,173.67"/><polygon points="492.80,164.25 489.47,166.17 489.47,170.03 492.80,171.95 496.13,170.03 496.13,166.17"/><polygon points="504.70,150.15 501.37,152.07 501.37,155.93 504.70,157.85 508.03,155.93 508.03,152.07"/><polygon points="516.50,143.65 513.17,145.57 513.17,149.43 516.50,151.35 519.83,149.43 519.83,145.57"/><polygon points="528.60,131.85 525.27,133.77 525.27,137.62 528.60,139.55 531.93,137.62 531.93,133.77"/><polygon points="540.60,125.15 537.27,127.08 537.27,130.93 540.60,132.85 543.93,130.93 543.93,127.08"/><polygon points="552.20,110.55 548.87,112.48 548.87,116.33 552.20,118.25 555.53,116.33 555.53,112.48"/><polygon points="564.20,107.65 560.87,109.58 560.87,113.42 564.20,115.35 567.53,113.42 567.53,109.58"/><polygon points="575.90,105.05 572.57,106.98 572.57,110.83 575.90,112.75 579.23,110.83 579.23,106.98"/><polygon points="587.80,106.85 584.47,108.78 584.47,112.62 587.80,114.55 591.13,112.62 591.13,108.78"/><polygon points="599.90,101.45 596.57,103.38 596.57,107.22 599.90,109.15 603.23,107.22 603.23,103.38"/><polygon points="611.50,109.95 608.17,111.88 608.17,115.72 611.50,117.65 614.83,115.72 614.83,111.88"/><polygon points="623.30,110.45 619.97,112.38 619.97,116.22 623.30,118.15 626.63,116.22 626.63,112.38"/><polygon points="635.50,118.55 632.17,120.48 632.17,124.33 635.50,126.25 638.83,124.33 638.83,120.48"/><polygon points="647.50,156.85 644.17,158.77 644.17,162.62 647.50,164.55 650.83,162.62 650.83,158.77"/></g>
</g>
<rect x="438.4" y="2.9" width="293.70" height="310.00" fill="none" stroke="#000" stroke-width="1.1"/><g stroke="#000" stroke-width="1.1"><line x1="475.11" y1="312.9" x2="475.11" y2="308.5"/><line x1="475.11" y1="2.9" x2="475.11" y2="7.300000000000001"/><line x1="548.54" y1="312.9" x2="548.54" y2="308.5"/><line x1="548.54" y1="2.9" x2="548.54" y2="7.300000000000001"/><line x1="621.96" y1="312.9" x2="621.96" y2="308.5"/><line x1="621.96" y1="2.9" x2="621.96" y2="7.300000000000001"/><line x1="695.39" y1="312.9" x2="695.39" y2="308.5"/><line x1="695.39" y1="2.9" x2="695.39" y2="7.300000000000001"/><line x1="438.4" y1="23.57" x2="442.79999999999995" y2="23.57"/><line x1="732.1" y1="23.57" x2="727.7" y2="23.57"/><line x1="438.4" y1="64.90" x2="442.79999999999995" y2="64.90"/><line x1="732.1" y1="64.90" x2="727.7" y2="64.90"/><line x1="438.4" y1="106.23" x2="442.79999999999995" y2="106.23"/><line x1="732.1" y1="106.23" x2="727.7" y2="106.23"/><line x1="438.4" y1="147.57" x2="442.79999999999995" y2="147.57"/><line x1="732.1" y1="147.57" x2="727.7" y2="147.57"/><line x1="438.4" y1="188.90" x2="442.79999999999995" y2="188.90"/><line x1="732.1" y1="188.90" x2="727.7" y2="188.90"/><line x1="438.4" y1="230.23" x2="442.79999999999995" y2="230.23"/><line x1="732.1" y1="230.23" x2="727.7" y2="230.23"/><line x1="438.4" y1="271.57" x2="442.79999999999995" y2="271.57"/><line x1="732.1" y1="271.57" x2="727.7" y2="271.57"/><line x1="438.4" y1="312.90" x2="442.79999999999995" y2="312.90"/><line x1="732.1" y1="312.90" x2="727.7" y2="312.90"/></g>
<g font-family='"Liberation Serif", serif' font-size="16.8" fill="#000"><rect x="464.91" y="324.15" width="9.4" height="0.95"/><text x="476.31" y="328.6">3</text><rect x="538.34" y="324.15" width="9.4" height="0.95"/><text x="549.74" y="328.6">2</text><rect x="611.76" y="324.15" width="9.4" height="0.95"/><text x="623.16" y="328.6">1</text><text x="695.39" y="327.6" text-anchor="middle">0</text><text x="435.40" y="29.07" text-anchor="end">0.4</text><text x="435.40" y="70.40" text-anchor="end">0.2</text><text x="435.40" y="111.73" text-anchor="end">0.0</text><text x="433.80" y="154.37" text-anchor="end">0.2</text><text x="433.80" y="195.70" text-anchor="end">0.4</text><text x="433.80" y="237.03" text-anchor="end">0.6</text><text x="433.80" y="278.37" text-anchor="end">0.8</text><text x="433.80" y="319.70" text-anchor="end">1.0</text></g><rect x="401.80" y="149.92" width="9.4" height="0.95"/><rect x="401.80" y="191.25" width="9.4" height="0.95"/><rect x="401.80" y="232.58" width="9.4" height="0.95"/><rect x="401.80" y="273.92" width="9.4" height="0.95"/><rect x="401.80" y="315.25" width="9.4" height="0.95"/>
<text x="77.80" y="349.00" font-family='"Liberation Serif", serif' font-size="16.5" textLength="18.98" lengthAdjust="spacingAndGlyphs">log</text><text x="98.24" y="353.10" font-family='"Liberation Serif", serif' font-size="12.0" textLength="12.01" lengthAdjust="spacingAndGlyphs">10</text><text x="111.92" y="349.00" font-family='"Liberation Serif", serif' font-size="16.5" textLength="11.58" lengthAdjust="spacingAndGlyphs">Σ</text><text x="122.63" y="352.40" font-family='"Liberation Sans", sans-serif' font-size="10.5" textLength="20.75" lengthAdjust="spacingAndGlyphs">SFR</text><text x="149.13" y="349.00" font-family='"Liberation Serif", serif' font-size="16.5" textLength="65.12" lengthAdjust="spacingAndGlyphs">FUV+W4</text><text x="219.03" y="349.00" font-family='"Liberation Serif", serif' font-size="16.5" textLength="20.87" lengthAdjust="spacingAndGlyphs">[M</text><circle cx="244.10" cy="349.20" r="3.6" fill="none" stroke="#000" stroke-width="0.8"/><circle cx="244.10" cy="349.20" r="0.85" fill="#000"/><text x="253.30" y="349.00" font-family='"Liberation Serif", serif' font-size="16.5" textLength="13.95" lengthAdjust="spacingAndGlyphs">yr</text><rect x="267.70" y="340.00" width="7.6" height="0.85"/><text x="275.80" y="343.50" font-family='"Liberation Serif", serif' font-size="12.0" textLength="6.25" lengthAdjust="spacingAndGlyphs">1</text><text x="287.29" y="349.00" font-family='"Liberation Serif", serif' font-size="16.5" textLength="23.20" lengthAdjust="spacingAndGlyphs">kpc</text><rect x="311.90" y="340.00" width="7.6" height="0.85"/><text x="320.48" y="343.50" font-family='"Liberation Serif", serif' font-size="12.0" textLength="5.86" lengthAdjust="spacingAndGlyphs">2</text><text x="327.63" y="349.00" font-family='"Liberation Serif", serif' font-size="16.5" textLength="4.34" lengthAdjust="spacingAndGlyphs">]</text>
<text x="457.80" y="349.00" font-family='"Liberation Serif", serif' font-size="16.5" textLength="18.98" lengthAdjust="spacingAndGlyphs">log</text><text x="478.24" y="353.10" font-family='"Liberation Serif", serif' font-size="12.0" textLength="12.01" lengthAdjust="spacingAndGlyphs">10</text><text x="491.92" y="349.00" font-family='"Liberation Serif", serif' font-size="16.5" textLength="11.58" lengthAdjust="spacingAndGlyphs">Σ</text><text x="502.63" y="352.40" font-family='"Liberation Sans", sans-serif' font-size="10.5" textLength="20.75" lengthAdjust="spacingAndGlyphs">SFR</text><text x="529.13" y="349.00" font-family='"Liberation Serif", serif' font-size="16.5" textLength="65.12" lengthAdjust="spacingAndGlyphs">FUV+W4</text><text x="599.03" y="349.00" font-family='"Liberation Serif", serif' font-size="16.5" textLength="20.87" lengthAdjust="spacingAndGlyphs">[M</text><circle cx="624.10" cy="349.20" r="3.6" fill="none" stroke="#000" stroke-width="0.8"/><circle cx="624.10" cy="349.20" r="0.85" fill="#000"/><text x="633.30" y="349.00" font-family='"Liberation Serif", serif' font-size="16.5" textLength="13.95" lengthAdjust="spacingAndGlyphs">yr</text><rect x="647.70" y="340.00" width="7.6" height="0.85"/><text x="655.80" y="343.50" font-family='"Liberation Serif", serif' font-size="12.0" textLength="6.25" lengthAdjust="spacingAndGlyphs">1</text><text x="667.29" y="349.00" font-family='"Liberation Serif", serif' font-size="16.5" textLength="23.20" lengthAdjust="spacingAndGlyphs">kpc</text><rect x="691.90" y="340.00" width="7.6" height="0.85"/><text x="700.48" y="343.50" font-family='"Liberation Serif", serif' font-size="12.0" textLength="5.86" lengthAdjust="spacingAndGlyphs">2</text><text x="707.63" y="349.00" font-family='"Liberation Serif", serif' font-size="16.5" textLength="4.34" lengthAdjust="spacingAndGlyphs">]</text>
<g transform="rotate(-90)"><text x="-239.20" y="14.30" font-family='"Liberation Serif", serif' font-size="16.5" textLength="18.98" lengthAdjust="spacingAndGlyphs">log</text><text x="-218.76" y="18.40" font-family='"Liberation Serif", serif' font-size="12.0" textLength="12.01" lengthAdjust="spacingAndGlyphs">10</text><text x="-205.08" y="14.30" font-family='"Liberation Serif", serif' font-size="16.5" textLength="11.58" lengthAdjust="spacingAndGlyphs">Σ</text><text x="-194.37" y="17.70" font-family='"Liberation Sans", sans-serif' font-size="10.5" textLength="20.75" lengthAdjust="spacingAndGlyphs">SFR</text><text x="-168.38" y="14.30" font-family='"Liberation Serif", serif' font-size="16.5" textLength="62.47" lengthAdjust="spacingAndGlyphs">MUSE H</text><text x="-105.47" y="14.30" font-family='"Liberation Serif", serif' font-size="16.5" font-style="italic" textLength="8.31" lengthAdjust="spacingAndGlyphs">α</text><text x="-96.39" y="8.30" font-family='"Liberation Serif", serif' font-size="13.0" textLength="20.91" lengthAdjust="spacingAndGlyphs">corr</text></g>
<g transform="rotate(-90)"><text x="-296.80" y="394.00" font-family='"Liberation Serif", serif' font-size="16.5" textLength="18.98" lengthAdjust="spacingAndGlyphs">log</text><text x="-276.36" y="398.10" font-family='"Liberation Serif", serif' font-size="12.0" textLength="12.01" lengthAdjust="spacingAndGlyphs">10</text><text x="-262.68" y="394.00" font-family='"Liberation Serif", serif' font-size="16.5" textLength="11.58" lengthAdjust="spacingAndGlyphs">Σ</text><text x="-251.97" y="397.40" font-family='"Liberation Sans", sans-serif' font-size="10.5" textLength="20.75" lengthAdjust="spacingAndGlyphs">SFR</text><text x="-225.98" y="394.00" font-family='"Liberation Serif", serif' font-size="16.5" textLength="62.47" lengthAdjust="spacingAndGlyphs">MUSE H</text><text x="-163.07" y="394.00" font-family='"Liberation Serif", serif' font-size="16.5" font-style="italic" textLength="8.31" lengthAdjust="spacingAndGlyphs">α</text><text x="-153.99" y="388.00" font-family='"Liberation Serif", serif' font-size="13.0" textLength="20.91" lengthAdjust="spacingAndGlyphs">corr</text><text x="-128.90" y="394.00" font-family='"Liberation Serif", serif' font-size="16.5" textLength="5.10" lengthAdjust="spacingAndGlyphs">/</text><text x="-121.26" y="394.00" font-family='"Liberation Serif", serif' font-size="16.5" textLength="11.34" lengthAdjust="spacingAndGlyphs">Σ</text><text x="-110.58" y="397.40" font-family='"Liberation Sans", sans-serif' font-size="10.5" textLength="21.17" lengthAdjust="spacingAndGlyphs">SFR</text><text x="-84.07" y="394.00" font-family='"Liberation Serif", serif' font-size="16.5" textLength="65.83" lengthAdjust="spacingAndGlyphs">FUV+W4</text></g>
<rect x="66.6" y="11.1" width="176.50" height="101.80" rx="3.2" ry="3.2" fill="#fff" fill-opacity="0.8" stroke="#404040" stroke-width="1.1"/><line x1="71.80" y1="24.45" x2="91.30" y2="24.45" stroke="#000" stroke-opacity="0.58" stroke-width="2.6"/><line x1="71.80" y1="48.9" x2="91.30" y2="48.9" stroke="#b22222" stroke-width="2.8"/><circle cx="81.40" cy="75.0" r="1.7" fill="#d8d8d8" stroke="#9e9e9e" stroke-width="1.0"/><g fill="#1e90ff" stroke="#000080" stroke-width="2.5"><polygon points="81.40,95.15 78.07,97.08 78.07,100.92 81.40,102.85 84.73,100.92 84.73,97.08"/></g><text x="97.64" y="30.20" font-family='"Liberation Serif", serif' font-size="16.5" textLength="54.53" lengthAdjust="spacingAndGlyphs">Equality</text><text x="97.53" y="56.00" font-family='"Liberation Serif", serif' font-size="16.5" textLength="49.92" lengthAdjust="spacingAndGlyphs">Median</text><text x="151.99" y="56.00" font-family='"Liberation Serif", serif' font-size="16.5" textLength="13.33" lengthAdjust="spacingAndGlyphs">±</text><text x="169.58" y="56.00" font-family='"Liberation Serif", serif' font-size="16.5" textLength="6.96" lengthAdjust="spacingAndGlyphs">1</text><text x="176.69" y="56.00" font-family='"Liberation Serif", serif' font-size="16.5" font-style="italic" textLength="10.16" lengthAdjust="spacingAndGlyphs">σ</text><text x="97.53" y="104.10" font-family='"Liberation Serif", serif' font-size="16.5" textLength="49.92" lengthAdjust="spacingAndGlyphs">Median</text><text x="151.99" y="104.10" font-family='"Liberation Serif", serif' font-size="16.5" textLength="13.33" lengthAdjust="spacingAndGlyphs">±</text><text x="169.58" y="104.10" font-family='"Liberation Serif", serif' font-size="16.5" textLength="6.96" lengthAdjust="spacingAndGlyphs">1</text><text x="176.69" y="104.10" font-family='"Liberation Serif", serif' font-size="16.5" font-style="italic" textLength="10.16" lengthAdjust="spacingAndGlyphs">σ</text><text x="96.66" y="79.40" font-family='"Liberation Serif", serif' font-size="16.5" textLength="15.23" lengthAdjust="spacingAndGlyphs">15</text><text x="110.26" y="79.40" font-family='"Liberation Serif", serif' font-size="16.5" font-style="italic" textLength="8.65" lengthAdjust="spacingAndGlyphs">″</text><text x="123.87" y="79.40" font-family='"Liberation Serif", serif' font-size="16.5" textLength="103.22" lengthAdjust="spacingAndGlyphs">resolution point</text><text x="193.56" y="104.10" font-family='"Liberation Serif", serif' font-size="16.5" textLength="43.93" lengthAdjust="spacingAndGlyphs">in bins</text>
<rect x="547.3" y="202.5" width="177.10" height="102.10" rx="3.2" ry="3.2" fill="#fff" fill-opacity="0.8" stroke="#404040" stroke-width="1.1"/><line x1="551.90" y1="215.5" x2="571.40" y2="215.5" stroke="#000" stroke-opacity="0.58" stroke-width="2.6"/><line x1="551.90" y1="239.7" x2="571.40" y2="239.7" stroke="#b22222" stroke-width="5.2"/><circle cx="561.70" cy="266.0" r="1.7" fill="#d8d8d8" stroke="#9e9e9e" stroke-width="1.0"/><g fill="#1e90ff" stroke="#000080" stroke-width="2.5"><polygon points="561.40,286.35 558.07,288.27 558.07,292.12 561.40,294.05 564.73,292.12 564.73,288.27"/></g><text x="577.74" y="221.40" font-family='"Liberation Serif", serif' font-size="16.5" textLength="54.53" lengthAdjust="spacingAndGlyphs">Equality</text><text x="577.63" y="247.20" font-family='"Liberation Serif", serif' font-size="16.5" textLength="49.92" lengthAdjust="spacingAndGlyphs">Median</text><text x="632.09" y="247.20" font-family='"Liberation Serif", serif' font-size="16.5" textLength="13.33" lengthAdjust="spacingAndGlyphs">±</text><text x="649.68" y="247.20" font-family='"Liberation Serif", serif' font-size="16.5" textLength="6.96" lengthAdjust="spacingAndGlyphs">1</text><text x="656.79" y="247.20" font-family='"Liberation Serif", serif' font-size="16.5" font-style="italic" textLength="10.16" lengthAdjust="spacingAndGlyphs">σ</text><text x="577.63" y="295.30" font-family='"Liberation Serif", serif' font-size="16.5" textLength="49.92" lengthAdjust="spacingAndGlyphs">Median</text><text x="632.09" y="295.30" font-family='"Liberation Serif", serif' font-size="16.5" textLength="13.33" lengthAdjust="spacingAndGlyphs">±</text><text x="649.68" y="295.30" font-family='"Liberation Serif", serif' font-size="16.5" textLength="6.96" lengthAdjust="spacingAndGlyphs">1</text><text x="656.79" y="295.30" font-family='"Liberation Serif", serif' font-size="16.5" font-style="italic" textLength="10.16" lengthAdjust="spacingAndGlyphs">σ</text><text x="576.76" y="270.60" font-family='"Liberation Serif", serif' font-size="16.5" textLength="15.23" lengthAdjust="spacingAndGlyphs">15</text><text x="590.36" y="270.60" font-family='"Liberation Serif", serif' font-size="16.5" font-style="italic" textLength="8.65" lengthAdjust="spacingAndGlyphs">″</text><text x="603.97" y="270.60" font-family='"Liberation Serif", serif' font-size="16.5" textLength="103.22" lengthAdjust="spacingAndGlyphs">resolution point</text><text x="673.66" y="295.30" font-family='"Liberation Serif", serif' font-size="16.5" textLength="43.93" lengthAdjust="spacingAndGlyphs">in bins</text>
</svg></body></html>
